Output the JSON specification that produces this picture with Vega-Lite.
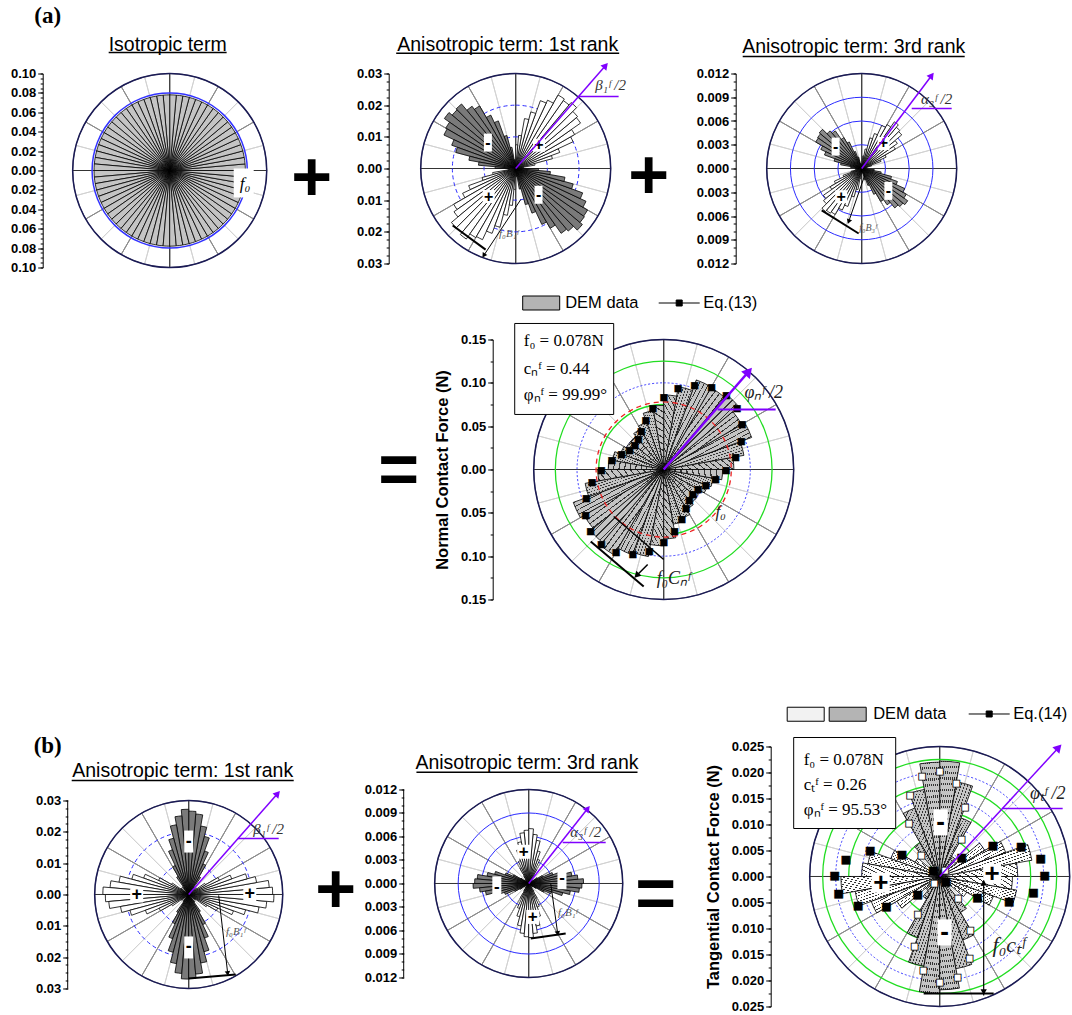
{
"$schema":"https://vega.github.io/schema/vega-lite/v6.json",
"padding":{"left":9.7,"top":4.5,"right":0,"bottom":0},
"background":"white",
"config":{"view":{"stroke":null}},
"datasets":{
"sp":[{"k":0},{"k":1},{"k":2},{"k":3},{"k":4},{"k":5},{"k":6},{"k":7},{"k":8},{"k":9},{"k":10},{"k":11},{"k":12},{"k":13},{"k":14},{"k":15},{"k":16},{"k":17},{"k":18},{"k":19},{"k":20},{"k":21},{"k":22},{"k":23}],
"iso":[{"a0":0,"a1":5,"r":0.078},{"a0":5,"a1":10,"r":0.078},{"a0":10,"a1":15,"r":0.078},{"a0":15,"a1":20,"r":0.078},{"a0":20,"a1":25,"r":0.078},{"a0":25,"a1":30,"r":0.078},{"a0":30,"a1":35,"r":0.078},{"a0":35,"a1":40,"r":0.078},{"a0":40,"a1":45,"r":0.078},{"a0":45,"a1":50,"r":0.078},{"a0":50,"a1":55,"r":0.078},{"a0":55,"a1":60,"r":0.078},{"a0":60,"a1":65,"r":0.078},{"a0":65,"a1":70,"r":0.078},{"a0":70,"a1":75,"r":0.078},{"a0":75,"a1":80,"r":0.078},{"a0":80,"a1":85,"r":0.078},{"a0":85,"a1":90,"r":0.078},{"a0":90,"a1":95,"r":0.078},{"a0":95,"a1":100,"r":0.078},{"a0":100,"a1":105,"r":0.078},{"a0":105,"a1":110,"r":0.078},{"a0":110,"a1":115,"r":0.078},{"a0":115,"a1":120,"r":0.078},{"a0":120,"a1":125,"r":0.078},{"a0":125,"a1":130,"r":0.078},{"a0":130,"a1":135,"r":0.078},{"a0":135,"a1":140,"r":0.078},{"a0":140,"a1":145,"r":0.078},{"a0":145,"a1":150,"r":0.078},{"a0":150,"a1":155,"r":0.078},{"a0":155,"a1":160,"r":0.078},{"a0":160,"a1":165,"r":0.078},{"a0":165,"a1":170,"r":0.078},{"a0":170,"a1":175,"r":0.078},{"a0":175,"a1":180,"r":0.078},{"a0":180,"a1":185,"r":0.078},{"a0":185,"a1":190,"r":0.078},{"a0":190,"a1":195,"r":0.078},{"a0":195,"a1":200,"r":0.078},{"a0":200,"a1":205,"r":0.078},{"a0":205,"a1":210,"r":0.078},{"a0":210,"a1":215,"r":0.078},{"a0":215,"a1":220,"r":0.078},{"a0":220,"a1":225,"r":0.078},{"a0":225,"a1":230,"r":0.078},{"a0":230,"a1":235,"r":0.078},{"a0":235,"a1":240,"r":0.078},{"a0":240,"a1":245,"r":0.078},{"a0":245,"a1":250,"r":0.078},{"a0":250,"a1":255,"r":0.078},{"a0":255,"a1":260,"r":0.078},{"a0":260,"a1":265,"r":0.078},{"a0":265,"a1":270,"r":0.078},{"a0":270,"a1":275,"r":0.078},{"a0":275,"a1":280,"r":0.078},{"a0":280,"a1":285,"r":0.078},{"a0":285,"a1":290,"r":0.078},{"a0":290,"a1":295,"r":0.078},{"a0":295,"a1":300,"r":0.078},{"a0":300,"a1":305,"r":0.078},{"a0":305,"a1":310,"r":0.078},{"a0":310,"a1":315,"r":0.078},{"a0":315,"a1":320,"r":0.078},{"a0":320,"a1":325,"r":0.078},{"a0":325,"a1":330,"r":0.078},{"a0":330,"a1":335,"r":0.078},{"a0":335,"a1":340,"r":0.078},{"a0":340,"a1":345,"r":0.078},{"a0":345,"a1":350,"r":0.078},{"a0":350,"a1":355,"r":0.078},{"a0":355,"a1":360,"r":0.078}],
"an1a":[{"a0":0,"a1":5,"r":0.0022,"s":"-"},{"a0":5,"a1":10,"r":0.0025,"s":"+"},{"a0":10,"a1":15,"r":0.0062,"s":"+"},{"a0":15,"a1":20,"r":0.012,"s":"+"},{"a0":20,"a1":25,"r":0.0148,"s":"+"},{"a0":25,"a1":30,"r":0.02,"s":"+"},{"a0":30,"a1":35,"r":0.0215,"s":"+"},{"a0":35,"a1":40,"r":0.025,"s":"+"},{"a0":40,"a1":45,"r":0.0255,"s":"+"},{"a0":45,"a1":50,"r":0.0272,"s":"+"},{"a0":50,"a1":55,"r":0.0262,"s":"+"},{"a0":55,"a1":60,"r":0.0268,"s":"+"},{"a0":60,"a1":65,"r":0.0238,"s":"+"},{"a0":65,"a1":70,"r":0.0228,"s":"+"},{"a0":70,"a1":75,"r":0.0185,"s":"+"},{"a0":75,"a1":80,"r":0.016,"s":"+"},{"a0":80,"a1":85,"r":0.0105,"s":"+"},{"a0":85,"a1":90,"r":0.0075,"s":"+"},{"a0":90,"a1":95,"r":0.002,"s":"+"},{"a0":95,"a1":100,"r":0.0028,"s":"-"},{"a0":100,"a1":105,"r":0.0068,"s":"-"},{"a0":105,"a1":110,"r":0.0108,"s":"-"},{"a0":110,"a1":115,"r":0.016,"s":"-"},{"a0":115,"a1":120,"r":0.0186,"s":"-"},{"a0":120,"a1":125,"r":0.0228,"s":"-"},{"a0":125,"a1":130,"r":0.024,"s":"-"},{"a0":130,"a1":135,"r":0.0266,"s":"-"},{"a0":135,"a1":140,"r":0.0262,"s":"-"},{"a0":140,"a1":145,"r":0.0275,"s":"-"},{"a0":145,"a1":150,"r":0.0255,"s":"-"},{"a0":150,"a1":155,"r":0.025,"s":"-"},{"a0":155,"a1":160,"r":0.0215,"s":"-"},{"a0":160,"a1":165,"r":0.0196,"s":"-"},{"a0":165,"a1":170,"r":0.015,"s":"-"},{"a0":170,"a1":175,"r":0.0118,"s":"-"},{"a0":175,"a1":180,"r":0.0065,"s":"-"},{"a0":180,"a1":185,"r":0.0025,"s":"-"},{"a0":185,"a1":190,"r":0.0022,"s":"+"},{"a0":190,"a1":195,"r":0.0074,"s":"+"},{"a0":195,"a1":200,"r":0.011,"s":"+"},{"a0":200,"a1":205,"r":0.0158,"s":"+"},{"a0":205,"a1":210,"r":0.0185,"s":"+"},{"a0":210,"a1":215,"r":0.0226,"s":"+"},{"a0":215,"a1":220,"r":0.0238,"s":"+"},{"a0":220,"a1":225,"r":0.0265,"s":"+"},{"a0":225,"a1":230,"r":0.0264,"s":"+"},{"a0":230,"a1":235,"r":0.0272,"s":"+"},{"a0":235,"a1":240,"r":0.0252,"s":"+"},{"a0":240,"a1":245,"r":0.0248,"s":"+"},{"a0":245,"a1":250,"r":0.0218,"s":"+"},{"a0":250,"a1":255,"r":0.0192,"s":"+"},{"a0":255,"a1":260,"r":0.015,"s":"+"},{"a0":260,"a1":265,"r":0.0117,"s":"+"},{"a0":265,"a1":270,"r":0.0066,"s":"+"},{"a0":270,"a1":275,"r":0.0026,"s":"+"},{"a0":275,"a1":280,"r":0.0024,"s":"-"},{"a0":280,"a1":285,"r":0.0066,"s":"-"},{"a0":285,"a1":290,"r":0.0118,"s":"-"},{"a0":290,"a1":295,"r":0.015,"s":"-"},{"a0":295,"a1":300,"r":0.0195,"s":"-"},{"a0":300,"a1":305,"r":0.0218,"s":"-"},{"a0":305,"a1":310,"r":0.025,"s":"-"},{"a0":310,"a1":315,"r":0.0258,"s":"-"},{"a0":315,"a1":320,"r":0.0275,"s":"-"},{"a0":320,"a1":325,"r":0.0265,"s":"-"},{"a0":325,"a1":330,"r":0.0262,"s":"-"},{"a0":330,"a1":335,"r":0.0245,"s":"-"},{"a0":335,"a1":340,"r":0.0225,"s":"-"},{"a0":340,"a1":345,"r":0.0188,"s":"-"},{"a0":345,"a1":350,"r":0.0158,"s":"-"},{"a0":350,"a1":355,"r":0.011,"s":"-"},{"a0":355,"a1":360,"r":0.0072,"s":"-"}],
"an3a":[{"a0":0,"a1":5,"r":0.0002,"s":"-"},{"a0":5,"a1":10,"r":0.0003,"s":"+"},{"a0":10,"a1":15,"r":0.0007,"s":"+"},{"a0":15,"a1":20,"r":0.0013,"s":"+"},{"a0":20,"a1":25,"r":0.0026,"s":"+"},{"a0":25,"a1":30,"r":0.0034,"s":"+"},{"a0":30,"a1":35,"r":0.0049,"s":"+"},{"a0":35,"a1":40,"r":0.0055,"s":"+"},{"a0":40,"a1":45,"r":0.0066,"s":"+"},{"a0":45,"a1":50,"r":0.0068,"s":"+"},{"a0":50,"a1":55,"r":0.0072,"s":"+"},{"a0":55,"a1":60,"r":0.0064,"s":"+"},{"a0":60,"a1":65,"r":0.006,"s":"+"},{"a0":65,"a1":70,"r":0.0047,"s":"+"},{"a0":70,"a1":75,"r":0.004,"s":"+"},{"a0":75,"a1":80,"r":0.0025,"s":"+"},{"a0":80,"a1":85,"r":0.0016,"s":"+"},{"a0":85,"a1":90,"r":0.0006,"s":"+"},{"a0":90,"a1":95,"r":0.0002,"s":"+"},{"a0":95,"a1":100,"r":0.0002,"s":"-"},{"a0":100,"a1":105,"r":0.0006,"s":"-"},{"a0":105,"a1":110,"r":0.0015,"s":"-"},{"a0":110,"a1":115,"r":0.0023,"s":"-"},{"a0":115,"a1":120,"r":0.0037,"s":"-"},{"a0":120,"a1":125,"r":0.0045,"s":"-"},{"a0":125,"a1":130,"r":0.0058,"s":"-"},{"a0":130,"a1":135,"r":0.0062,"s":"-"},{"a0":135,"a1":140,"r":0.007,"s":"-"},{"a0":140,"a1":145,"r":0.0068,"s":"-"},{"a0":145,"a1":150,"r":0.0067,"s":"-"},{"a0":150,"a1":155,"r":0.0057,"s":"-"},{"a0":155,"a1":160,"r":0.005,"s":"-"},{"a0":160,"a1":165,"r":0.0036,"s":"-"},{"a0":165,"a1":170,"r":0.0027,"s":"-"},{"a0":170,"a1":175,"r":0.0014,"s":"-"},{"a0":175,"a1":180,"r":0.0008,"s":"-"},{"a0":180,"a1":185,"r":0.0003,"s":"-"},{"a0":185,"a1":190,"r":0.0002,"s":"+"},{"a0":190,"a1":195,"r":0.0008,"s":"+"},{"a0":195,"a1":200,"r":0.0014,"s":"+"},{"a0":200,"a1":205,"r":0.0025,"s":"+"},{"a0":205,"a1":210,"r":0.0038,"s":"+"},{"a0":210,"a1":215,"r":0.0046,"s":"+"},{"a0":215,"a1":220,"r":0.0059,"s":"+"},{"a0":220,"a1":225,"r":0.0063,"s":"+"},{"a0":225,"a1":230,"r":0.0071,"s":"+"},{"a0":230,"a1":235,"r":0.0069,"s":"+"},{"a0":235,"a1":240,"r":0.0067,"s":"+"},{"a0":240,"a1":245,"r":0.0058,"s":"+"},{"a0":245,"a1":250,"r":0.0051,"s":"+"},{"a0":250,"a1":255,"r":0.0037,"s":"+"},{"a0":255,"a1":260,"r":0.0027,"s":"+"},{"a0":260,"a1":265,"r":0.0013,"s":"+"},{"a0":265,"a1":270,"r":0.0007,"s":"+"},{"a0":270,"a1":275,"r":0.0003,"s":"+"},{"a0":275,"a1":280,"r":0.0003,"s":"-"},{"a0":280,"a1":285,"r":0.0006,"s":"-"},{"a0":285,"a1":290,"r":0.0015,"s":"-"},{"a0":290,"a1":295,"r":0.0023,"s":"-"},{"a0":295,"a1":300,"r":0.0036,"s":"-"},{"a0":300,"a1":305,"r":0.0048,"s":"-"},{"a0":305,"a1":310,"r":0.0056,"s":"-"},{"a0":310,"a1":315,"r":0.0065,"s":"-"},{"a0":315,"a1":320,"r":0.0068,"s":"-"},{"a0":320,"a1":325,"r":0.0071,"s":"-"},{"a0":325,"a1":330,"r":0.0065,"s":"-"},{"a0":330,"a1":335,"r":0.006,"s":"-"},{"a0":335,"a1":340,"r":0.0048,"s":"-"},{"a0":340,"a1":345,"r":0.0039,"s":"-"},{"a0":345,"a1":350,"r":0.0025,"s":"-"},{"a0":350,"a1":355,"r":0.0016,"s":"-"},{"a0":355,"a1":360,"r":0.0006,"s":"-"}],
"b1":[{"a0":0,"a1":5,"r":0.0268,"s":"+"},{"a0":5,"a1":10,"r":0.0258,"s":"+"},{"a0":10,"a1":15,"r":0.022,"s":"+"},{"a0":15,"a1":20,"r":0.0193,"s":"+"},{"a0":20,"a1":25,"r":0.0146,"s":"+"},{"a0":25,"a1":30,"r":0.0108,"s":"+"},{"a0":30,"a1":35,"r":0.0062,"s":"+"},{"a0":35,"a1":40,"r":0.0032,"s":"+"},{"a0":40,"a1":45,"r":0.0009,"s":"+"},{"a0":45,"a1":50,"r":0.0011,"s":"-"},{"a0":50,"a1":55,"r":0.0029,"s":"-"},{"a0":55,"a1":60,"r":0.0066,"s":"-"},{"a0":60,"a1":65,"r":0.0108,"s":"-"},{"a0":65,"a1":70,"r":0.0148,"s":"-"},{"a0":70,"a1":75,"r":0.0192,"s":"-"},{"a0":75,"a1":80,"r":0.0222,"s":"-"},{"a0":80,"a1":85,"r":0.0258,"s":"-"},{"a0":85,"a1":90,"r":0.0266,"s":"-"},{"a0":90,"a1":95,"r":0.0272,"s":"-"},{"a0":95,"a1":100,"r":0.0252,"s":"-"},{"a0":100,"a1":105,"r":0.0226,"s":"-"},{"a0":105,"a1":110,"r":0.0186,"s":"-"},{"a0":110,"a1":115,"r":0.0152,"s":"-"},{"a0":115,"a1":120,"r":0.0102,"s":"-"},{"a0":120,"a1":125,"r":0.0067,"s":"-"},{"a0":125,"a1":130,"r":0.0031,"s":"-"},{"a0":130,"a1":135,"r":0.0009,"s":"-"},{"a0":135,"a1":140,"r":0.0009,"s":"+"},{"a0":140,"a1":145,"r":0.0032,"s":"+"},{"a0":145,"a1":150,"r":0.0064,"s":"+"},{"a0":150,"a1":155,"r":0.0106,"s":"+"},{"a0":155,"a1":160,"r":0.0153,"s":"+"},{"a0":160,"a1":165,"r":0.0188,"s":"+"},{"a0":165,"a1":170,"r":0.0226,"s":"+"},{"a0":170,"a1":175,"r":0.0252,"s":"+"},{"a0":175,"a1":180,"r":0.0274,"s":"+"},{"a0":180,"a1":185,"r":0.0266,"s":"+"},{"a0":185,"a1":190,"r":0.0256,"s":"+"},{"a0":190,"a1":195,"r":0.0221,"s":"+"},{"a0":195,"a1":200,"r":0.0194,"s":"+"},{"a0":200,"a1":205,"r":0.0147,"s":"+"},{"a0":205,"a1":210,"r":0.0104,"s":"+"},{"a0":210,"a1":215,"r":0.0063,"s":"+"},{"a0":215,"a1":220,"r":0.0029,"s":"+"},{"a0":220,"a1":225,"r":0.001,"s":"+"},{"a0":225,"a1":230,"r":0.001,"s":"-"},{"a0":230,"a1":235,"r":0.0028,"s":"-"},{"a0":235,"a1":240,"r":0.0067,"s":"-"},{"a0":240,"a1":245,"r":0.0103,"s":"-"},{"a0":245,"a1":250,"r":0.015,"s":"-"},{"a0":250,"a1":255,"r":0.0191,"s":"-"},{"a0":255,"a1":260,"r":0.0224,"s":"-"},{"a0":260,"a1":265,"r":0.0253,"s":"-"},{"a0":265,"a1":270,"r":0.027,"s":"-"},{"a0":270,"a1":275,"r":0.0268,"s":"-"},{"a0":275,"a1":280,"r":0.0255,"s":"-"},{"a0":280,"a1":285,"r":0.0222,"s":"-"},{"a0":285,"a1":290,"r":0.0189,"s":"-"},{"a0":290,"a1":295,"r":0.0148,"s":"-"},{"a0":295,"a1":300,"r":0.0106,"s":"-"},{"a0":300,"a1":305,"r":0.0065,"s":"-"},{"a0":305,"a1":310,"r":0.003,"s":"-"},{"a0":310,"a1":315,"r":0.0011,"s":"-"},{"a0":315,"a1":320,"r":0.001,"s":"+"},{"a0":320,"a1":325,"r":0.0028,"s":"+"},{"a0":325,"a1":330,"r":0.0068,"s":"+"},{"a0":330,"a1":335,"r":0.0102,"s":"+"},{"a0":335,"a1":340,"r":0.0152,"s":"+"},{"a0":340,"a1":345,"r":0.0188,"s":"+"},{"a0":345,"a1":350,"r":0.0228,"s":"+"},{"a0":350,"a1":355,"r":0.025,"s":"+"},{"a0":355,"a1":360,"r":0.0272,"s":"+"}],
"b3":[{"a0":0,"a1":5,"r":0.007,"s":"-"},{"a0":5,"a1":10,"r":0.0063,"s":"-"},{"a0":10,"a1":15,"r":0.0056,"s":"-"},{"a0":15,"a1":20,"r":0.0043,"s":"-"},{"a0":20,"a1":25,"r":0.0033,"s":"-"},{"a0":25,"a1":30,"r":0.002,"s":"-"},{"a0":30,"a1":35,"r":0.0013,"s":"-"},{"a0":35,"a1":40,"r":0.0005,"s":"-"},{"a0":40,"a1":45,"r":0.0002,"s":"-"},{"a0":45,"a1":50,"r":0.0002,"s":"+"},{"a0":50,"a1":55,"r":0.0006,"s":"+"},{"a0":55,"a1":60,"r":0.0013,"s":"+"},{"a0":60,"a1":65,"r":0.002,"s":"+"},{"a0":65,"a1":70,"r":0.0033,"s":"+"},{"a0":70,"a1":75,"r":0.0043,"s":"+"},{"a0":75,"a1":80,"r":0.0056,"s":"+"},{"a0":80,"a1":85,"r":0.0063,"s":"+"},{"a0":85,"a1":90,"r":0.007,"s":"+"},{"a0":90,"a1":95,"r":0.0068,"s":"+"},{"a0":95,"a1":100,"r":0.0065,"s":"+"},{"a0":100,"a1":105,"r":0.0054,"s":"+"},{"a0":105,"a1":110,"r":0.0045,"s":"+"},{"a0":110,"a1":115,"r":0.0031,"s":"+"},{"a0":115,"a1":120,"r":0.0022,"s":"+"},{"a0":120,"a1":125,"r":0.0011,"s":"+"},{"a0":125,"a1":130,"r":0.0007,"s":"+"},{"a0":130,"a1":135,"r":0.0002,"s":"+"},{"a0":135,"a1":140,"r":0.0003,"s":"-"},{"a0":140,"a1":145,"r":0.0006,"s":"-"},{"a0":145,"a1":150,"r":0.0012,"s":"-"},{"a0":150,"a1":155,"r":0.0022,"s":"-"},{"a0":155,"a1":160,"r":0.0032,"s":"-"},{"a0":160,"a1":165,"r":0.0045,"s":"-"},{"a0":165,"a1":170,"r":0.0054,"s":"-"},{"a0":170,"a1":175,"r":0.0066,"s":"-"},{"a0":175,"a1":180,"r":0.0069,"s":"-"},{"a0":180,"a1":185,"r":0.0071,"s":"-"},{"a0":185,"a1":190,"r":0.0063,"s":"-"},{"a0":190,"a1":195,"r":0.0056,"s":"-"},{"a0":195,"a1":200,"r":0.0043,"s":"-"},{"a0":200,"a1":205,"r":0.0033,"s":"-"},{"a0":205,"a1":210,"r":0.002,"s":"-"},{"a0":210,"a1":215,"r":0.0013,"s":"-"},{"a0":215,"a1":220,"r":0.0005,"s":"-"},{"a0":220,"a1":225,"r":0.0002,"s":"-"},{"a0":225,"a1":230,"r":0.0002,"s":"+"},{"a0":230,"a1":235,"r":0.0007,"s":"+"},{"a0":235,"a1":240,"r":0.0011,"s":"+"},{"a0":240,"a1":245,"r":0.0021,"s":"+"},{"a0":245,"a1":250,"r":0.0034,"s":"+"},{"a0":250,"a1":255,"r":0.0044,"s":"+"},{"a0":255,"a1":260,"r":0.0055,"s":"+"},{"a0":260,"a1":265,"r":0.0064,"s":"+"},{"a0":265,"a1":270,"r":0.0068,"s":"+"},{"a0":270,"a1":275,"r":0.0069,"s":"+"},{"a0":275,"a1":280,"r":0.0064,"s":"+"},{"a0":280,"a1":285,"r":0.0055,"s":"+"},{"a0":285,"a1":290,"r":0.0044,"s":"+"},{"a0":290,"a1":295,"r":0.0032,"s":"+"},{"a0":295,"a1":300,"r":0.0021,"s":"+"},{"a0":300,"a1":305,"r":0.0012,"s":"+"},{"a0":305,"a1":310,"r":0.0006,"s":"+"},{"a0":310,"a1":315,"r":0.0002,"s":"+"},{"a0":315,"a1":320,"r":0.0002,"s":"-"},{"a0":320,"a1":325,"r":0.0007,"s":"-"},{"a0":325,"a1":330,"r":0.0011,"s":"-"},{"a0":330,"a1":335,"r":0.0022,"s":"-"},{"a0":335,"a1":340,"r":0.0031,"s":"-"},{"a0":340,"a1":345,"r":0.0045,"s":"-"},{"a0":345,"a1":350,"r":0.0054,"s":"-"},{"a0":350,"a1":355,"r":0.0065,"s":"-"},{"a0":355,"a1":360,"r":0.0068,"s":"-"}],
"nrm":[{"a0":0,"a1":10,"r":0.081},{"a0":10,"a1":20,"r":0.094},{"a0":20,"a1":30,"r":0.108},{"a0":30,"a1":40,"r":0.104},{"a0":40,"a1":50,"r":0.113},{"a0":50,"a1":60,"r":0.109},{"a0":60,"a1":70,"r":0.11},{"a0":70,"a1":80,"r":0.097},{"a0":80,"a1":90,"r":0.086},{"a0":90,"a1":100,"r":0.074},{"a0":100,"a1":110,"r":0.069},{"a0":110,"a1":120,"r":0.058},{"a0":120,"a1":130,"r":0.054},{"a0":130,"a1":140,"r":0.05},{"a0":140,"a1":150,"r":0.05},{"a0":150,"a1":160,"r":0.053},{"a0":160,"a1":170,"r":0.06},{"a0":170,"a1":180,"r":0.064},{"a0":180,"a1":190,"r":0.076},{"a0":190,"a1":200,"r":0.092},{"a0":200,"a1":210,"r":0.111},{"a0":210,"a1":220,"r":0.106},{"a0":220,"a1":230,"r":0.11},{"a0":230,"a1":240,"r":0.114},{"a0":240,"a1":250,"r":0.105},{"a0":250,"a1":260,"r":0.102},{"a0":260,"a1":270,"r":0.088},{"a0":270,"a1":280,"r":0.08},{"a0":280,"a1":290,"r":0.064},{"a0":290,"a1":300,"r":0.06},{"a0":300,"a1":310,"r":0.053},{"a0":310,"a1":320,"r":0.05},{"a0":320,"a1":330,"r":0.049},{"a0":330,"a1":340,"r":0.054},{"a0":340,"a1":350,"r":0.058},{"a0":350,"a1":360,"r":0.068}],
"eq13":[{"a":0,"r":0.072},{"a":10,"r":0.084},{"a":20,"r":0.0952},{"a":30,"r":0.1043},{"a":40,"r":0.1103},{"a":50,"r":0.1123},{"a":60,"r":0.1103},{"a":70,"r":0.1043},{"a":80,"r":0.0952},{"a":90,"r":0.084},{"a":100,"r":0.072},{"a":110,"r":0.0608},{"a":120,"r":0.0517},{"a":130,"r":0.0457},{"a":140,"r":0.0437},{"a":150,"r":0.0457},{"a":160,"r":0.0517},{"a":170,"r":0.0608},{"a":180,"r":0.072},{"a":190,"r":0.084},{"a":200,"r":0.0952},{"a":210,"r":0.1043},{"a":220,"r":0.1103},{"a":230,"r":0.1123},{"a":240,"r":0.1103},{"a":250,"r":0.1043},{"a":260,"r":0.0952},{"a":270,"r":0.084},{"a":280,"r":0.072},{"a":290,"r":0.0608},{"a":300,"r":0.0517},{"a":310,"r":0.0457},{"a":320,"r":0.0437},{"a":330,"r":0.0457},{"a":340,"r":0.0517},{"a":350,"r":0.0608}],
"tng":[{"a0":0,"a1":10,"r":0.015,"s":"+"},{"a0":10,"a1":20,"r":0.018,"s":"+"},{"a0":20,"a1":30,"r":0.0135,"s":"+"},{"a0":30,"a1":40,"r":0.01,"s":"+"},{"a0":40,"a1":50,"r":0.004,"s":"+"},{"a0":50,"a1":60,"r":0.0045,"s":"-"},{"a0":60,"a1":70,"r":0.012,"s":"-"},{"a0":70,"a1":80,"r":0.0185,"s":"-"},{"a0":80,"a1":90,"r":0.0222,"s":"-"},{"a0":90,"a1":100,"r":0.022,"s":"-"},{"a0":100,"a1":110,"r":0.017,"s":"-"},{"a0":110,"a1":120,"r":0.014,"s":"-"},{"a0":120,"a1":130,"r":0.0075,"s":"-"},{"a0":130,"a1":140,"r":0.0022,"s":"-"},{"a0":140,"a1":150,"r":0.0055,"s":"+"},{"a0":150,"a1":160,"r":0.01,"s":"+"},{"a0":160,"a1":170,"r":0.014,"s":"+"},{"a0":170,"a1":180,"r":0.015,"s":"+"},{"a0":180,"a1":190,"r":0.019,"s":"+"},{"a0":190,"a1":200,"r":0.0165,"s":"+"},{"a0":200,"a1":210,"r":0.014,"s":"+"},{"a0":210,"a1":220,"r":0.0095,"s":"+"},{"a0":220,"a1":230,"r":0.0035,"s":"+"},{"a0":230,"a1":240,"r":0.005,"s":"-"},{"a0":240,"a1":250,"r":0.0125,"s":"-"},{"a0":250,"a1":260,"r":0.0175,"s":"-"},{"a0":260,"a1":270,"r":0.0225,"s":"-"},{"a0":270,"a1":280,"r":0.0218,"s":"-"},{"a0":280,"a1":290,"r":0.018,"s":"-"},{"a0":290,"a1":300,"r":0.013,"s":"-"},{"a0":300,"a1":310,"r":0.008,"s":"-"},{"a0":310,"a1":320,"r":0.0025,"s":"-"},{"a0":320,"a1":330,"r":0.006,"s":"+"},{"a0":330,"a1":340,"r":0.011,"s":"+"},{"a0":340,"a1":350,"r":0.015,"s":"+"},{"a0":350,"a1":360,"r":0.014,"s":"+"}],
"eq14":[{"a":0,"r":0.0202,"s":"+"},{"a":10,"r":0.0197,"s":"+"},{"a":20,"r":0.0167,"s":"+"},{"a":30,"r":0.0118,"s":"+"},{"a":40,"r":0.0055,"s":"+"},{"a":50,"r":0.0016,"s":"-"},{"a":60,"r":0.0084,"s":"-"},{"a":70,"r":0.0142,"s":"-"},{"a":80,"r":0.0183,"s":"-"},{"a":90,"r":0.0202,"s":"-"},{"a":100,"r":0.0197,"s":"-"},{"a":110,"r":0.0167,"s":"-"},{"a":120,"r":0.0118,"s":"-"},{"a":130,"r":0.0055,"s":"-"},{"a":140,"r":0.0016,"s":"+"},{"a":150,"r":0.0084,"s":"+"},{"a":160,"r":0.0142,"s":"+"},{"a":170,"r":0.0183,"s":"+"},{"a":180,"r":0.0202,"s":"+"},{"a":190,"r":0.0197,"s":"+"},{"a":200,"r":0.0167,"s":"+"},{"a":210,"r":0.0118,"s":"+"},{"a":220,"r":0.0055,"s":"+"},{"a":230,"r":0.0016,"s":"-"},{"a":240,"r":0.0084,"s":"-"},{"a":250,"r":0.0142,"s":"-"},{"a":260,"r":0.0183,"s":"-"},{"a":270,"r":0.0202,"s":"-"},{"a":280,"r":0.0197,"s":"-"},{"a":290,"r":0.0167,"s":"-"},{"a":300,"r":0.0118,"s":"-"},{"a":310,"r":0.0055,"s":"-"},{"a":320,"r":0.0016,"s":"+"},{"a":330,"r":0.0084,"s":"+"},{"a":340,"r":0.0142,"s":"+"},{"a":350,"r":0.0183,"s":"+"}]
},
"columns":3,
"spacing":0,
"bounds":"flush",
"resolve":{"scale":{"theta":"independent","radius":"independent","fill":"independent","stroke":"independent"},"legend":{"fill":"independent","stroke":"independent"}},
"concat":[
{"width":194,"height":194,"resolve":{"scale":{"theta":"independent"},"axis":{"y":"independent"}},"layer":[
 {"data":{"name":"sp"},"mark":{"type":"arc","filled":false,"stroke":"#d2d2d2","strokeWidth":1},"encoding":{"theta":{"aggregate":"count","type":"quantitative","stack":true},"order":{"field":"k","type":"quantitative"},"radius":{"datum":0.1,"type":"quantitative","scale":{"type":"linear","domain":[0,0.1],"range":[0,97]}}}},
 {"data":{"name":"sp"},"transform":[{"filter":"datum.k % 2 == 0"}],"mark":{"type":"arc","filled":false,"stroke":"#8c8c8c","strokeWidth":1},"encoding":{"theta":{"aggregate":"count","type":"quantitative","stack":true},"order":{"field":"k","type":"quantitative"},"radius":{"datum":0.1,"type":"quantitative","scale":{"type":"linear","domain":[0,0.1],"range":[0,97]}}}},
 {"data":{"values":[{}]},"mark":{"type":"rule","color":"#333333"},"encoding":{"x":{"datum":0,"type":"quantitative","scale":{"domain":[-0.1,0.1]},"axis":null},"y":{"datum":-0.1,"type":"quantitative","scale":{"domain":[-0.1,0.1]},"axis":{"orient":"left","title":null,"offset":30,"grid":false,"values":[-0.1,-0.08,-0.06,-0.04,-0.02,0,0.02,0.04,0.06,0.08,0.1],"labelExpr":"format(abs(datum.value), '.2f')","tickSize":5,"domainColor":"black","tickColor":"black","labelColor":"black","labelFont":"Liberation Sans","labelFontWeight":"bold","labelFontSize":13,"labelPadding":2,"labelOverlap":false,"labelFlush":false}},"y2":{"datum":0.1}}},
 {"data":{"values":[{}]},"mark":{"type":"rule","color":"#333333"},"encoding":{"x":{"datum":-0.1,"type":"quantitative","scale":{"domain":[-0.1,0.1]},"axis":null},"x2":{"datum":0.1},"y":{"datum":0,"type":"quantitative","scale":{"domain":[-0.1,0.1]},"axis":{"orient":"left","title":null,"offset":30,"grid":false,"values":[-0.1,-0.095,-0.09,-0.085,-0.08,-0.075,-0.07,-0.065,-0.06,-0.055,-0.05,-0.045,-0.04,-0.035,-0.03,-0.025,-0.02,-0.015,-0.01,-0.005,0,0.005,0.01,0.015,0.02,0.025,0.03,0.035,0.04,0.045,0.05,0.055,0.06,0.065,0.07,0.075,0.08,0.085,0.09,0.095,0.1],"labels":false,"domain":false,"tickSize":2.5,"tickColor":"black"}}}},
 {"data":{"values":[{"g":0.08}]},"mark":{"type":"arc","filled":false,"stroke":"#3333ff","strokeWidth":1.5,"theta":0,"theta2":6.2832},"encoding":{"radius":{"field":"g","type":"quantitative","stack":false,"scale":{"type":"linear","domain":[0,0.1],"range":[0,97]}}}},
 {"data":{"name":"iso"},"mark":{"type":"arc","fill":"#c4c4c4","stroke":"black","strokeWidth":0.8},"encoding":{"theta":{"field":"a0","type":"quantitative","scale":{"domain":[0,360],"range":[1.5708,-4.7124]}},"theta2":{"field":"a1"},"radius":{"field":"r","type":"quantitative","stack":false,"scale":{"type":"linear","domain":[0,0.1],"range":[0,97]}}}},
 {"data":{"values":[{}]},"mark":{"type":"arc","filled":false,"stroke":"#1a1a55","strokeWidth":1.5,"theta":0,"theta2":6.2832},"encoding":{"radius":{"datum":0.1,"type":"quantitative","scale":{"type":"linear","domain":[0,0.1],"range":[0,97]}}}},
 {"data":{"values":[{}]},"mark":{"type":"rect","fill":"white"},"encoding":{"x":{"datum":0.066,"type":"quantitative","scale":{"domain":[-0.1,0.1]},"axis":null},"x2":{"datum":0.0866},"y":{"datum":0.0021,"type":"quantitative","scale":{"domain":[-0.1,0.1]},"axis":null},"y2":{"datum":-0.0278}}},
 {"data":{"values":[{}]},"mark":{"type":"text","text":"f₀","font":"Liberation Serif","fontStyle":"italic","fontSize":17,"color":"black"},"encoding":{"x":{"datum":0.0776,"type":"quantitative","scale":{"domain":[-0.1,0.1]},"axis":null},"y":{"datum":-0.0134,"type":"quantitative","scale":{"domain":[-0.1,0.1]},"axis":null}}},
 {"data":{"values":[{}]},"mark":{"type":"text","text":"Isotropic term","font":"Liberation Sans","fontSize":19.5,"color":"black","baseline":"alphabetic"},"encoding":{"x":{"datum":-0.0021,"type":"quantitative","scale":{"domain":[-0.1,0.1]},"axis":null},"y":{"datum":0.1237,"type":"quantitative","scale":{"domain":[-0.1,0.1]},"axis":null}}},
 {"data":{"values":[{}]},"mark":{"type":"rule","color":"black","strokeWidth":1.5},"encoding":{"x":{"datum":-0.0629,"type":"quantitative","scale":{"domain":[-0.1,0.1]},"axis":null},"x2":{"datum":0.0587},"y":{"datum":0.1216,"type":"quantitative","scale":{"domain":[-0.1,0.1]},"axis":null}}},
 {"data":{"values":[{}]},"mark":{"type":"text","text":"(a)","font":"Liberation Serif","fontWeight":"bold","fontSize":23,"color":"black"},"encoding":{"x":{"datum":-0.1258,"type":"quantitative","scale":{"domain":[-0.1,0.1]},"axis":null},"y":{"datum":0.1588,"type":"quantitative","scale":{"domain":[-0.1,0.1]},"axis":null}}},
 {"data":{"values":[{}]},"mark":{"type":"text","text":"+","font":"Liberation Sans","fontWeight":"bold","fontSize":70,"color":"black"},"encoding":{"x":{"datum":0.1464,"type":"quantitative","scale":{"domain":[-0.1,0.1]},"axis":null},"y":{"datum":-0.0098,"type":"quantitative","scale":{"domain":[-0.1,0.1]},"axis":null}}}
]},
{"width":190,"height":190,"resolve":{"scale":{"theta":"independent"},"axis":{"y":"independent"}},"layer":[
 {"data":{"name":"sp"},"mark":{"type":"arc","filled":false,"stroke":"#d2d2d2","strokeWidth":1},"encoding":{"theta":{"aggregate":"count","type":"quantitative","stack":true},"order":{"field":"k","type":"quantitative"},"radius":{"datum":0.03,"type":"quantitative","scale":{"type":"linear","domain":[0,0.03],"range":[0,95]}}}},
 {"data":{"name":"sp"},"transform":[{"filter":"datum.k % 2 == 0"}],"mark":{"type":"arc","filled":false,"stroke":"#8c8c8c","strokeWidth":1},"encoding":{"theta":{"aggregate":"count","type":"quantitative","stack":true},"order":{"field":"k","type":"quantitative"},"radius":{"datum":0.03,"type":"quantitative","scale":{"type":"linear","domain":[0,0.03],"range":[0,95]}}}},
 {"data":{"values":[{}]},"mark":{"type":"rule","color":"#333333"},"encoding":{"x":{"datum":0,"type":"quantitative","scale":{"domain":[-0.03,0.03]},"axis":null},"y":{"datum":-0.03,"type":"quantitative","scale":{"domain":[-0.03,0.03]},"axis":{"orient":"left","title":null,"offset":32,"grid":false,"values":[-0.03,-0.02,-0.01,0,0.01,0.02,0.03],"labelExpr":"format(abs(datum.value), '.2f')","tickSize":5,"domainColor":"black","tickColor":"black","labelColor":"black","labelFont":"Liberation Sans","labelFontWeight":"bold","labelFontSize":13,"labelPadding":2,"labelOverlap":false,"labelFlush":false}},"y2":{"datum":0.03}}},
 {"data":{"values":[{}]},"mark":{"type":"rule","color":"#333333"},"encoding":{"x":{"datum":-0.03,"type":"quantitative","scale":{"domain":[-0.03,0.03]},"axis":null},"x2":{"datum":0.03},"y":{"datum":0,"type":"quantitative","scale":{"domain":[-0.03,0.03]},"axis":{"orient":"left","title":null,"offset":32,"grid":false,"values":[-0.03,-0.0275,-0.025,-0.0225,-0.02,-0.0175,-0.015,-0.0125,-0.01,-0.0075,-0.005,-0.0025,0,0.0025,0.005,0.0075,0.01,0.0125,0.015,0.0175,0.02,0.0225,0.025,0.0275,0.03],"labels":false,"domain":false,"tickSize":2.5,"tickColor":"black"}}}},
 {"data":{"values":[{"g":0.01},{"g":0.02}]},"mark":{"type":"arc","filled":false,"stroke":"#2a2aff","strokeWidth":1,"strokeDash":[4,3],"theta":0,"theta2":6.2832},"encoding":{"radius":{"field":"g","type":"quantitative","stack":false,"scale":{"type":"linear","domain":[0,0.03],"range":[0,95]}}}},
 {"data":{"name":"an1a"},"mark":{"type":"arc","stroke":"black","strokeWidth":0.8},"encoding":{"theta":{"field":"a0","type":"quantitative","scale":{"domain":[0,360],"range":[1.5708,-4.7124]}},"theta2":{"field":"a1"},"radius":{"field":"r","type":"quantitative","stack":false,"scale":{"type":"linear","domain":[0,0.03],"range":[0,95]}},"fill":{"field":"s","type":"nominal","scale":{"domain":["+","-"],"range":["white","#7a7a7a"]},"legend":null}}},
 {"data":{"values":[{}]},"mark":{"type":"arc","filled":false,"stroke":"#1a1a55","strokeWidth":1.5,"theta":0,"theta2":6.2832},"encoding":{"radius":{"datum":0.03,"type":"quantitative","scale":{"type":"linear","domain":[0,0.03],"range":[0,95]}}}},
 {"data":{"values":[{}]},"mark":{"type":"rect","fill":"white"},"encoding":{"x":{"datum":-0.01004,"type":"quantitative","scale":{"domain":[-0.03,0.03]},"axis":null},"x2":{"datum":-0.007514},"y":{"datum":0.005342,"type":"quantitative","scale":{"domain":[-0.03,0.03]},"axis":null},"y2":{"datum":0.011026}}},
 {"data":{"values":[{}]},"mark":{"type":"rect","fill":"white"},"encoding":{"x":{"datum":0.005459,"type":"quantitative","scale":{"domain":[-0.03,0.03]},"axis":null},"x2":{"datum":0.009249},"y":{"datum":0.005301,"type":"quantitative","scale":{"domain":[-0.03,0.03]},"axis":null},"y2":{"datum":0.009407}}},
 {"data":{"values":[{}]},"mark":{"type":"rect","fill":"white"},"encoding":{"x":{"datum":-0.01044,"type":"quantitative","scale":{"domain":[-0.03,0.03]},"axis":null},"x2":{"datum":-0.00665},"y":{"datum":-0.0109,"type":"quantitative","scale":{"domain":[-0.03,0.03]},"axis":null},"y2":{"datum":-0.006794}}},
 {"data":{"values":[{}]},"mark":{"type":"rect","fill":"white"},"encoding":{"x":{"datum":0.005954,"type":"quantitative","scale":{"domain":[-0.03,0.03]},"axis":null},"x2":{"datum":0.00848},"y":{"datum":-0.011144,"type":"quantitative","scale":{"domain":[-0.03,0.03]},"axis":null},"y2":{"datum":-0.00546}}},
 {"data":{"values":[{"a":137,"r":0.012,"t":"-"},{"a":45,"r":0.0104,"t":"+"},{"a":226,"r":0.0123,"t":"+"},{"a":311,"r":0.011,"t":"-"}]},"mark":{"type":"text","font":"Liberation Sans","fontWeight":"bold","fontSize":16,"color":"black"},"encoding":{"theta":{"field":"a","type":"quantitative","stack":false,"scale":{"domain":[0,360],"range":[1.5708,-4.7124]}},"radius":{"field":"r","type":"quantitative","stack":false,"scale":{"type":"linear","domain":[0,0.03],"range":[0,95]}},"text":{"field":"t"}}},
 {"data":{"values":[{}]},"mark":{"type":"rule","color":"#8000ff","strokeWidth":1.5},"encoding":{"x":{"datum":0,"type":"quantitative","scale":{"domain":[-0.03,0.03]},"axis":null},"y":{"datum":0,"type":"quantitative","scale":{"domain":[-0.03,0.03]},"axis":null},"x2":{"datum":0.0284},"y2":{"datum":0.0325}}},
 {"data":{"values":[{}]},"mark":{"type":"rule","color":"#8000ff","strokeWidth":1.5},"encoding":{"x":{"datum":0.0199,"type":"quantitative","scale":{"domain":[-0.03,0.03]},"axis":null},"x2":{"datum":0.0325},"y":{"datum":0.0227,"type":"quantitative","scale":{"domain":[-0.03,0.03]},"axis":null}}},
 {"data":{"values":[{}]},"mark":{"type":"point","shape":"triangle-up","filled":true,"color":"#8000ff","size":60,"angle":41,"opacity":1},"encoding":{"x":{"datum":0.0284,"type":"quantitative","scale":{"domain":[-0.03,0.03]},"axis":null},"y":{"datum":0.0325,"type":"quantitative","scale":{"domain":[-0.03,0.03]},"axis":null}}},
 {"data":{"values":[{}]},"mark":{"type":"text","text":"β₁ᶠ /2","font":"Liberation Serif","fontStyle":"italic","fontSize":15,"color":"#333333"},"encoding":{"x":{"datum":0.03,"type":"quantitative","scale":{"domain":[-0.03,0.03]},"axis":null},"y":{"datum":0.0265,"type":"quantitative","scale":{"domain":[-0.03,0.03]},"axis":null}}},
 {"data":{"values":[{}]},"mark":{"type":"rule","color":"black","strokeWidth":1},"encoding":{"x":{"datum":0.0016,"type":"quantitative","scale":{"domain":[-0.03,0.03]},"axis":null},"y":{"datum":-0.0098,"type":"quantitative","scale":{"domain":[-0.03,0.03]},"axis":null},"x2":{"datum":-0.0101},"y2":{"datum":-0.0275}}},
 {"data":{"values":[{}]},"mark":{"type":"point","shape":"triangle-up","filled":true,"color":"black","size":30,"angle":-146.5,"opacity":1},"encoding":{"x":{"datum":-0.0101,"type":"quantitative","scale":{"domain":[-0.03,0.03]},"axis":null},"y":{"datum":-0.0275,"type":"quantitative","scale":{"domain":[-0.03,0.03]},"axis":null}}},
 {"data":{"values":[{}]},"mark":{"type":"rule","color":"black","strokeWidth":2},"encoding":{"x":{"datum":-0.0199,"type":"quantitative","scale":{"domain":[-0.03,0.03]},"axis":null},"y":{"datum":-0.018,"type":"quantitative","scale":{"domain":[-0.03,0.03]},"axis":null},"x2":{"datum":-0.0095},"y2":{"datum":-0.0256}}},
 {"data":{"values":[{}]},"mark":{"type":"text","text":"f₀B₁ᶠ","font":"Liberation Serif","fontStyle":"italic","fontSize":11,"color":"#555555"},"encoding":{"x":{"datum":-0.0022,"type":"quantitative","scale":{"domain":[-0.03,0.03]},"axis":null},"y":{"datum":-0.0208,"type":"quantitative","scale":{"domain":[-0.03,0.03]},"axis":null}}},
 {"data":{"values":[{}]},"mark":{"type":"text","text":"Anisotropic term: 1st rank","font":"Liberation Sans","fontSize":19.5,"color":"black","baseline":"alphabetic"},"encoding":{"x":{"datum":-0.00253,"type":"quantitative","scale":{"domain":[-0.03,0.03]},"axis":null},"y":{"datum":0.03726,"type":"quantitative","scale":{"domain":[-0.03,0.03]},"axis":null}}},
 {"data":{"values":[{}]},"mark":{"type":"rule","color":"black","strokeWidth":1.5},"encoding":{"x":{"datum":-0.03774,"type":"quantitative","scale":{"domain":[-0.03,0.03]},"axis":null},"x2":{"datum":0.03268},"y":{"datum":0.03641,"type":"quantitative","scale":{"domain":[-0.03,0.03]},"axis":null}}},
 {"data":{"values":[{}]},"mark":{"type":"text","text":"+","font":"Liberation Sans","fontWeight":"bold","fontSize":70,"color":"black"},"encoding":{"x":{"datum":0.042,"type":"quantitative","scale":{"domain":[-0.03,0.03]},"axis":null},"y":{"datum":-0.00315,"type":"quantitative","scale":{"domain":[-0.03,0.03]},"axis":null}}}
]},
{"width":190,"height":190,"resolve":{"scale":{"theta":"independent"},"axis":{"y":"independent"}},"layer":[
 {"data":{"name":"sp"},"mark":{"type":"arc","filled":false,"stroke":"#d2d2d2","strokeWidth":1},"encoding":{"theta":{"aggregate":"count","type":"quantitative","stack":true},"order":{"field":"k","type":"quantitative"},"radius":{"datum":0.012,"type":"quantitative","scale":{"type":"linear","domain":[0,0.012],"range":[0,95]}}}},
 {"data":{"name":"sp"},"transform":[{"filter":"datum.k % 2 == 0"}],"mark":{"type":"arc","filled":false,"stroke":"#8c8c8c","strokeWidth":1},"encoding":{"theta":{"aggregate":"count","type":"quantitative","stack":true},"order":{"field":"k","type":"quantitative"},"radius":{"datum":0.012,"type":"quantitative","scale":{"type":"linear","domain":[0,0.012],"range":[0,95]}}}},
 {"data":{"values":[{}]},"mark":{"type":"rule","color":"#333333"},"encoding":{"x":{"datum":0,"type":"quantitative","scale":{"domain":[-0.012,0.012]},"axis":null},"y":{"datum":-0.012,"type":"quantitative","scale":{"domain":[-0.012,0.012]},"axis":{"orient":"left","title":null,"offset":31,"grid":false,"values":[-0.012,-0.009,-0.006,-0.003,0,0.003,0.006,0.009,0.012],"labelExpr":"format(abs(datum.value), '.3f')","tickSize":5,"domainColor":"black","tickColor":"black","labelColor":"black","labelFont":"Liberation Sans","labelFontWeight":"bold","labelFontSize":13,"labelPadding":2,"labelOverlap":false,"labelFlush":false}},"y2":{"datum":0.012}}},
 {"data":{"values":[{}]},"mark":{"type":"rule","color":"#333333"},"encoding":{"x":{"datum":-0.012,"type":"quantitative","scale":{"domain":[-0.012,0.012]},"axis":null},"x2":{"datum":0.012},"y":{"datum":0,"type":"quantitative","scale":{"domain":[-0.012,0.012]},"axis":{"orient":"left","title":null,"offset":31,"grid":false,"values":[-0.012,-0.011,-0.01,-0.009,-0.008,-0.007,-0.006,-0.005,-0.004,-0.003,-0.002,-0.001,0,0.001,0.002,0.003,0.004,0.005,0.006,0.007,0.008,0.009,0.01,0.011,0.012],"labels":false,"domain":false,"tickSize":2.5,"tickColor":"black"}}}},
 {"data":{"values":[{"g":0.003},{"g":0.006},{"g":0.009}]},"mark":{"type":"arc","filled":false,"stroke":"#2a2aff","strokeWidth":1,"theta":0,"theta2":6.2832},"encoding":{"radius":{"field":"g","type":"quantitative","stack":false,"scale":{"type":"linear","domain":[0,0.012],"range":[0,95]}}}},
 {"data":{"name":"an3a"},"mark":{"type":"arc","stroke":"black","strokeWidth":0.8},"encoding":{"theta":{"field":"a0","type":"quantitative","scale":{"domain":[0,360],"range":[1.5708,-4.7124]}},"theta2":{"field":"a1"},"radius":{"field":"r","type":"quantitative","stack":false,"scale":{"type":"linear","domain":[0,0.012],"range":[0,95]}},"fill":{"field":"s","type":"nominal","scale":{"domain":["+","-"],"range":["white","#8a8a8a"]},"legend":null}}},
 {"data":{"values":[{}]},"mark":{"type":"arc","filled":false,"stroke":"#1a1a55","strokeWidth":1.5,"theta":0,"theta2":6.2832},"encoding":{"radius":{"datum":0.012,"type":"quantitative","scale":{"type":"linear","domain":[0,0.012],"range":[0,95]}}}},
 {"data":{"values":[{}]},"mark":{"type":"rect","fill":"white"},"encoding":{"x":{"datum":-0.003799,"type":"quantitative","scale":{"domain":[-0.012,0.012]},"axis":null},"x2":{"datum":-0.002789},"y":{"datum":0.001627,"type":"quantitative","scale":{"domain":[-0.012,0.012]},"axis":null},"y2":{"datum":0.003901}}},
 {"data":{"values":[{}]},"mark":{"type":"rect","fill":"white"},"encoding":{"x":{"datum":0.001998,"type":"quantitative","scale":{"domain":[-0.012,0.012]},"axis":null},"x2":{"datum":0.003514},"y":{"datum":0.002349,"type":"quantitative","scale":{"domain":[-0.012,0.012]},"axis":null},"y2":{"datum":0.003991}}},
 {"data":{"values":[{}]},"mark":{"type":"rect","fill":"white"},"encoding":{"x":{"datum":-0.003344,"type":"quantitative","scale":{"domain":[-0.012,0.012]},"axis":null},"x2":{"datum":-0.001828},"y":{"datum":-0.004381,"type":"quantitative","scale":{"domain":[-0.012,0.012]},"axis":null},"y2":{"datum":-0.002739}}},
 {"data":{"values":[{}]},"mark":{"type":"rect","fill":"white"},"encoding":{"x":{"datum":0.002865,"type":"quantitative","scale":{"domain":[-0.012,0.012]},"axis":null},"x2":{"datum":0.003875},"y":{"datum":-0.003965,"type":"quantitative","scale":{"domain":[-0.012,0.012]},"axis":null},"y2":{"datum":-0.001691}}},
 {"data":{"values":[{"a":140,"r":0.0043,"t":"-"},{"a":49,"r":0.0042,"t":"+"},{"a":234,"r":0.0044,"t":"+"},{"a":320,"r":0.0044,"t":"-"}]},"mark":{"type":"text","font":"Liberation Sans","fontWeight":"bold","fontSize":16,"color":"black"},"encoding":{"theta":{"field":"a","type":"quantitative","stack":false,"scale":{"domain":[0,360],"range":[1.5708,-4.7124]}},"radius":{"field":"r","type":"quantitative","stack":false,"scale":{"type":"linear","domain":[0,0.012],"range":[0,95]}},"text":{"field":"t"}}},
 {"data":{"values":[{}]},"mark":{"type":"rule","color":"#8000ff","strokeWidth":1.5},"encoding":{"x":{"datum":0,"type":"quantitative","scale":{"domain":[-0.012,0.012]},"axis":null},"y":{"datum":0,"type":"quantitative","scale":{"domain":[-0.012,0.012]},"axis":null},"x2":{"datum":0.00884},"y2":{"datum":0.01175}}},
 {"data":{"values":[{}]},"mark":{"type":"rule","color":"#8000ff","strokeWidth":1.5},"encoding":{"x":{"datum":0.00632,"type":"quantitative","scale":{"domain":[-0.012,0.012]},"axis":null},"x2":{"datum":0.01137},"y":{"datum":0.00758,"type":"quantitative","scale":{"domain":[-0.012,0.012]},"axis":null}}},
 {"data":{"values":[{}]},"mark":{"type":"point","shape":"triangle-up","filled":true,"color":"#8000ff","size":60,"angle":37,"opacity":1},"encoding":{"x":{"datum":0.00884,"type":"quantitative","scale":{"domain":[-0.012,0.012]},"axis":null},"y":{"datum":0.01175,"type":"quantitative","scale":{"domain":[-0.012,0.012]},"axis":null}}},
 {"data":{"values":[{}]},"mark":{"type":"text","text":"α₃ᶠ /2","font":"Liberation Serif","fontStyle":"italic","fontSize":15,"color":"#333333"},"encoding":{"x":{"datum":0.00947,"type":"quantitative","scale":{"domain":[-0.012,0.012]},"axis":null},"y":{"datum":0.00884,"type":"quantitative","scale":{"domain":[-0.012,0.012]},"axis":null}}},
 {"data":{"values":[{}]},"mark":{"type":"rule","color":"black","strokeWidth":1},"encoding":{"x":{"datum":0.00038,"type":"quantitative","scale":{"domain":[-0.012,0.012]},"axis":null},"y":{"datum":-0.00088,"type":"quantitative","scale":{"domain":[-0.012,0.012]},"axis":null},"x2":{"datum":-0.00164},"y2":{"datum":-0.0067}}},
 {"data":{"values":[{}]},"mark":{"type":"point","shape":"triangle-up","filled":true,"color":"black","size":30,"angle":-160.9,"opacity":1},"encoding":{"x":{"datum":-0.00164,"type":"quantitative","scale":{"domain":[-0.012,0.012]},"axis":null},"y":{"datum":-0.0067,"type":"quantitative","scale":{"domain":[-0.012,0.012]},"axis":null}}},
 {"data":{"values":[{}]},"mark":{"type":"rule","color":"black","strokeWidth":2},"encoding":{"x":{"datum":-0.00505,"type":"quantitative","scale":{"domain":[-0.012,0.012]},"axis":null},"y":{"datum":-0.0053,"type":"quantitative","scale":{"domain":[-0.012,0.012]},"axis":null},"x2":{"datum":-0.00038},"y2":{"datum":-0.00821}}},
 {"data":{"values":[{}]},"mark":{"type":"text","text":"f₀B₃ᶠ","font":"Liberation Serif","fontStyle":"italic","fontSize":10,"color":"#555555"},"encoding":{"x":{"datum":0.0008,"type":"quantitative","scale":{"domain":[-0.012,0.012]},"axis":null},"y":{"datum":-0.0075,"type":"quantitative","scale":{"domain":[-0.012,0.012]},"axis":null}}},
 {"data":{"values":[{}]},"mark":{"type":"text","text":"Anisotropic term: 3rd rank","font":"Liberation Sans","fontSize":19.5,"color":"black","baseline":"alphabetic"},"encoding":{"x":{"datum":-0.00101,"type":"quantitative","scale":{"domain":[-0.012,0.012]},"axis":null},"y":{"datum":0.01453,"type":"quantitative","scale":{"domain":[-0.012,0.012]},"axis":null}}},
 {"data":{"values":[{}]},"mark":{"type":"rule","color":"black","strokeWidth":1.5},"encoding":{"x":{"datum":-0.01503,"type":"quantitative","scale":{"domain":[-0.012,0.012]},"axis":null},"x2":{"datum":0.01301},"y":{"datum":0.01415,"type":"quantitative","scale":{"domain":[-0.012,0.012]},"axis":null}}}
]},
{"width":348,"height":72,"data":{"values":[{}]},"mark":{"type":"text","text":""},"encoding":{}},
{"width":346,"height":1,"data":{"values":[{}]},"mark":{"type":"text","text":""},"encoding":{}},
{"width":1,"height":1,"data":{"values":[{}]},"mark":{"type":"text","text":""},"encoding":{}},
{"width":1,"height":1,"data":{"values":[{}]},"mark":{"type":"text","text":""},"encoding":{}},
{"width":260,"height":260,"resolve":{"scale":{"theta":"independent"},"axis":{"y":"independent"}},"layer":[
 {"data":{"name":"sp"},"mark":{"type":"arc","filled":false,"stroke":"#d2d2d2","strokeWidth":1},"encoding":{"x":{"datum":0,"type":"quantitative","scale":{"domain":[-0.280385,0.019615]},"axis":null},"y":{"datum":0,"type":"quantitative","scale":{"domain":[-0.15,0.15]},"axis":null},"theta":{"aggregate":"count","type":"quantitative","stack":true},"order":{"field":"k","type":"quantitative"},"radius":{"datum":0.15,"type":"quantitative","scale":{"type":"linear","domain":[0,0.15],"range":[0,130]}}}},
 {"data":{"name":"sp"},"transform":[{"filter":"datum.k % 2 == 0"}],"mark":{"type":"arc","filled":false,"stroke":"#8c8c8c","strokeWidth":1},"encoding":{"x":{"datum":0,"type":"quantitative","scale":{"domain":[-0.280385,0.019615]},"axis":null},"y":{"datum":0,"type":"quantitative","scale":{"domain":[-0.15,0.15]},"axis":null},"theta":{"aggregate":"count","type":"quantitative","stack":true},"order":{"field":"k","type":"quantitative"},"radius":{"datum":0.15,"type":"quantitative","scale":{"type":"linear","domain":[0,0.15],"range":[0,130]}}}},
 {"data":{"values":[{}]},"mark":{"type":"rule","color":"#333333"},"encoding":{"x":{"datum":0,"type":"quantitative","scale":{"domain":[-0.280385,0.019615]},"axis":null},"y":{"datum":-0.15,"type":"quantitative","scale":{"domain":[-0.15,0.15]},"axis":{"orient":"left","title":"Normal Contact Force (N)","titleFont":"Liberation Sans","titleFontWeight":"bold","titleFontSize":16.5,"titleColor":"black","titlePadding":10,"offset":-72,"grid":false,"values":[-0.15,-0.1,-0.05,0,0.05,0.1,0.15],"labelExpr":"format(abs(datum.value), '.2f')","tickSize":5,"domainColor":"black","tickColor":"black","labelColor":"black","labelFont":"Liberation Sans","labelFontWeight":"bold","labelFontSize":13,"labelPadding":2,"labelOverlap":false,"labelFlush":false}},"y2":{"datum":0.15}}},
 {"data":{"values":[{}]},"mark":{"type":"rule","color":"#333333"},"encoding":{"x":{"datum":-0.15,"type":"quantitative","scale":{"domain":[-0.280385,0.019615]},"axis":null},"x2":{"datum":0.15},"y":{"datum":0,"type":"quantitative","scale":{"domain":[-0.15,0.15]},"axis":{"orient":"left","title":null,"offset":-72,"grid":false,"values":[-0.15,-0.125,-0.1,-0.075,-0.05,-0.025,0,0.025,0.05,0.075,0.1,0.125,0.15],"labels":false,"domain":false,"tickSize":2.5,"tickColor":"black"}}}},
 {"data":{"values":[{"g":0.05},{"g":0.1}]},"mark":{"type":"arc","filled":false,"stroke":"#3a3aff","strokeWidth":1,"strokeDash":[2,2],"theta":0,"theta2":6.2832},"encoding":{"x":{"datum":0,"type":"quantitative","scale":{"domain":[-0.280385,0.019615]},"axis":null},"y":{"datum":0,"type":"quantitative","scale":{"domain":[-0.15,0.15]},"axis":null},"radius":{"field":"g","type":"quantitative","stack":false,"scale":{"type":"linear","domain":[0,0.15],"range":[0,130]}}}},
 {"data":{"values":[{"g":0.025},{"g":0.075},{"g":0.125}]},"mark":{"type":"arc","filled":false,"stroke":"#22dd22","strokeWidth":1.3,"theta":0,"theta2":6.2832},"encoding":{"x":{"datum":0,"type":"quantitative","scale":{"domain":[-0.280385,0.019615]},"axis":null},"y":{"datum":0,"type":"quantitative","scale":{"domain":[-0.15,0.15]},"axis":null},"radius":{"field":"g","type":"quantitative","stack":false,"scale":{"type":"linear","domain":[0,0.15],"range":[0,130]}}}},
 {"data":{"name":"nrm"},"mark":{"type":"arc","stroke":"black","strokeWidth":0.8,"fill":{"gradient":"linear","x1":0,"y1":0,"x2":1,"y2":1,"stops":[{"offset":0,"color":"#c4c4c4"},{"offset":0.04,"color":"#c4c4c4"},{"offset":0.04,"color":"#333333"},{"offset":0.05,"color":"#333333"},{"offset":0.05,"color":"#c4c4c4"},{"offset":0.09,"color":"#c4c4c4"},{"offset":0.09,"color":"#333333"},{"offset":0.1,"color":"#333333"},{"offset":0.1,"color":"#c4c4c4"},{"offset":0.14,"color":"#c4c4c4"},{"offset":0.14,"color":"#333333"},{"offset":0.15,"color":"#333333"},{"offset":0.15,"color":"#c4c4c4"},{"offset":0.19,"color":"#c4c4c4"},{"offset":0.19,"color":"#333333"},{"offset":0.2,"color":"#333333"},{"offset":0.2,"color":"#c4c4c4"},{"offset":0.24,"color":"#c4c4c4"},{"offset":0.24,"color":"#333333"},{"offset":0.25,"color":"#333333"},{"offset":0.25,"color":"#c4c4c4"},{"offset":0.29,"color":"#c4c4c4"},{"offset":0.29,"color":"#333333"},{"offset":0.3,"color":"#333333"},{"offset":0.3,"color":"#c4c4c4"},{"offset":0.34,"color":"#c4c4c4"},{"offset":0.34,"color":"#333333"},{"offset":0.35,"color":"#333333"},{"offset":0.35,"color":"#c4c4c4"},{"offset":0.39,"color":"#c4c4c4"},{"offset":0.39,"color":"#333333"},{"offset":0.4,"color":"#333333"},{"offset":0.4,"color":"#c4c4c4"},{"offset":0.44,"color":"#c4c4c4"},{"offset":0.44,"color":"#333333"},{"offset":0.45,"color":"#333333"},{"offset":0.45,"color":"#c4c4c4"},{"offset":0.49,"color":"#c4c4c4"},{"offset":0.49,"color":"#333333"},{"offset":0.5,"color":"#333333"},{"offset":0.5,"color":"#c4c4c4"},{"offset":0.54,"color":"#c4c4c4"},{"offset":0.54,"color":"#333333"},{"offset":0.55,"color":"#333333"},{"offset":0.55,"color":"#c4c4c4"},{"offset":0.59,"color":"#c4c4c4"},{"offset":0.59,"color":"#333333"},{"offset":0.6,"color":"#333333"},{"offset":0.6,"color":"#c4c4c4"},{"offset":0.64,"color":"#c4c4c4"},{"offset":0.64,"color":"#333333"},{"offset":0.65,"color":"#333333"},{"offset":0.65,"color":"#c4c4c4"},{"offset":0.69,"color":"#c4c4c4"},{"offset":0.69,"color":"#333333"},{"offset":0.7,"color":"#333333"},{"offset":0.7,"color":"#c4c4c4"},{"offset":0.74,"color":"#c4c4c4"},{"offset":0.74,"color":"#333333"},{"offset":0.75,"color":"#333333"},{"offset":0.75,"color":"#c4c4c4"},{"offset":0.79,"color":"#c4c4c4"},{"offset":0.79,"color":"#333333"},{"offset":0.8,"color":"#333333"},{"offset":0.8,"color":"#c4c4c4"},{"offset":0.84,"color":"#c4c4c4"},{"offset":0.84,"color":"#333333"},{"offset":0.85,"color":"#333333"},{"offset":0.85,"color":"#c4c4c4"},{"offset":0.89,"color":"#c4c4c4"},{"offset":0.89,"color":"#333333"},{"offset":0.9,"color":"#333333"},{"offset":0.9,"color":"#c4c4c4"},{"offset":0.94,"color":"#c4c4c4"},{"offset":0.94,"color":"#333333"},{"offset":0.95,"color":"#333333"},{"offset":0.95,"color":"#c4c4c4"},{"offset":0.99,"color":"#c4c4c4"},{"offset":0.99,"color":"#333333"},{"offset":1,"color":"#333333"}]}},"encoding":{"x":{"datum":0,"type":"quantitative","scale":{"domain":[-0.280385,0.019615]},"axis":null},"y":{"datum":0,"type":"quantitative","scale":{"domain":[-0.15,0.15]},"axis":null},"theta":{"field":"a0","type":"quantitative","scale":{"domain":[0,360],"range":[1.5708,-4.7124]}},"theta2":{"field":"a1"},"radius":{"field":"r","type":"quantitative","stack":false,"scale":{"type":"linear","domain":[0,0.15],"range":[0,130]}}}},
 {"data":{"values":[{}]},"mark":{"type":"rect"},"encoding":{"x":{"datum":0,"type":"quantitative","scale":{"domain":[-0.280385,0.019615]},"axis":null},"x2":{"datum":0},"y":{"datum":0,"type":"quantitative","scale":{"domain":[-0.15,0.15]},"axis":null},"y2":{"datum":0},"fill":{"datum":"DEM data","type":"nominal","scale":{"range":["#b4b4b4"]},"legend":{"orient":"none","legendX":110,"legendY":-47,"title":null,"direction":"horizontal","symbolType":"M-1.85,-0.7H1.85V0.7H-1.85Z","symbolSize":400,"symbolStrokeColor":"black","symbolStrokeWidth":1,"labelOffset":13.5,"padding":0,"labelFont":"Liberation Sans","labelFontSize":16.5,"labelColor":"black"}}}},
 {"data":{"values":[{"g":0.078}]},"mark":{"type":"arc","filled":false,"stroke":"#ee2222","strokeWidth":1.3,"strokeDash":[5,4],"theta":0,"theta2":6.2832},"encoding":{"x":{"datum":0,"type":"quantitative","scale":{"domain":[-0.280385,0.019615]},"axis":null},"y":{"datum":0,"type":"quantitative","scale":{"domain":[-0.15,0.15]},"axis":null},"radius":{"field":"g","type":"quantitative","stack":false,"scale":{"type":"linear","domain":[0,0.15],"range":[0,130]}}}},
 {"data":{"values":[{}]},"mark":{"type":"arc","filled":false,"stroke":"#1a1a55","strokeWidth":1.5,"theta":0,"theta2":6.2832},"encoding":{"x":{"datum":0,"type":"quantitative","scale":{"domain":[-0.280385,0.019615]},"axis":null},"y":{"datum":0,"type":"quantitative","scale":{"domain":[-0.15,0.15]},"axis":null},"radius":{"datum":0.15,"type":"quantitative","scale":{"type":"linear","domain":[0,0.15],"range":[0,130]}}}},
 {"data":{"name":"eq13"},"mark":{"type":"text","text":"■","font":"DejaVu Sans","fontSize":9,"color":"black","strokeWidth":0.4},"encoding":{"x":{"datum":0,"type":"quantitative","scale":{"domain":[-0.280385,0.019615]},"axis":null},"y":{"datum":0,"type":"quantitative","scale":{"domain":[-0.15,0.15]},"axis":null},"theta":{"field":"a","type":"quantitative","stack":false,"scale":{"domain":[0,360],"range":[1.5708,-4.7124]}},"radius":{"field":"r","type":"quantitative","stack":false,"scale":{"type":"linear","domain":[0,0.15],"range":[0,130]}},"stroke":{"datum":"Eq.(13)","type":"nominal","scale":{"range":["black"]},"legend":{"orient":"none","legendX":248,"legendY":-47,"title":null,"direction":"horizontal","symbolType":"M-2.05,0H2.05M-0.3,-0.3H0.3V0.3H-0.3Z","symbolSize":400,"symbolFillColor":"black","symbolStrokeColor":"black","symbolStrokeWidth":1,"labelOffset":13.5,"padding":0,"labelFont":"Liberation Sans","labelFontSize":16.5,"labelColor":"black"}}}},
 {"data":{"values":[{}]},"mark":{"type":"rule","color":"#8000ff","strokeWidth":2.5},"encoding":{"x":{"datum":0,"type":"quantitative","scale":{"domain":[-0.280385,0.019615]},"axis":null},"y":{"datum":0,"type":"quantitative","scale":{"domain":[-0.15,0.15]},"axis":null},"x2":{"datum":0.0981},"y2":{"datum":0.1131}}},
 {"data":{"values":[{}]},"mark":{"type":"rule","color":"#8000ff","strokeWidth":2},"encoding":{"x":{"datum":0.0623,"type":"quantitative","scale":{"domain":[-0.280385,0.019615]},"axis":null},"x2":{"datum":0.1292},"y":{"datum":0.0692,"type":"quantitative","scale":{"domain":[-0.15,0.15]},"axis":null}}},
 {"data":{"values":[{}]},"mark":{"type":"point","shape":"triangle-up","filled":true,"color":"#8000ff","size":130,"angle":40.9,"opacity":1},"encoding":{"x":{"datum":0.0981,"type":"quantitative","scale":{"domain":[-0.280385,0.019615]},"axis":null},"y":{"datum":0.1131,"type":"quantitative","scale":{"domain":[-0.15,0.15]},"axis":null}}},
 {"data":{"values":[{}]},"mark":{"type":"text","text":"φₙᶠ /2","font":"Liberation Serif","fontStyle":"italic","fontSize":18,"color":"#222222"},"encoding":{"x":{"datum":0.1154,"type":"quantitative","scale":{"domain":[-0.280385,0.019615]},"axis":null},"y":{"datum":0.0877,"type":"quantitative","scale":{"domain":[-0.15,0.15]},"axis":null}}},
 {"data":{"values":[{}]},"mark":{"type":"rule","color":"black","strokeWidth":1.5},"encoding":{"x":{"datum":-0.0577,"type":"quantitative","scale":{"domain":[-0.280385,0.019615]},"axis":null},"y":{"datum":-0.0542,"type":"quantitative","scale":{"domain":[-0.15,0.15]},"axis":null},"x2":{"datum":0},"y2":{"datum":-0.1038}}},
 {"data":{"values":[{}]},"mark":{"type":"rule","color":"black","strokeWidth":2},"encoding":{"x":{"datum":-0.0842,"type":"quantitative","scale":{"domain":[-0.280385,0.019615]},"axis":null},"y":{"datum":-0.0831,"type":"quantitative","scale":{"domain":[-0.15,0.15]},"axis":null},"x2":{"datum":-0.0231},"y2":{"datum":-0.135}}},
 {"data":{"values":[{}]},"mark":{"type":"rule","color":"black","strokeWidth":1.5},"encoding":{"x":{"datum":-0.0185,"type":"quantitative","scale":{"domain":[-0.280385,0.019615]},"axis":null},"y":{"datum":-0.1096,"type":"quantitative","scale":{"domain":[-0.15,0.15]},"axis":null},"x2":{"datum":-0.0312},"y2":{"datum":-0.1223}}},
 {"data":{"values":[{}]},"mark":{"type":"point","shape":"triangle-up","filled":true,"color":"black","size":50,"angle":-135,"opacity":1},"encoding":{"x":{"datum":-0.0312,"type":"quantitative","scale":{"domain":[-0.280385,0.019615]},"axis":null},"y":{"datum":-0.1223,"type":"quantitative","scale":{"domain":[-0.15,0.15]},"axis":null}}},
 {"data":{"values":[{}]},"mark":{"type":"text","text":"f₀Cₙᶠ","font":"Liberation Serif","fontStyle":"italic","fontSize":18,"color":"#222222"},"encoding":{"x":{"datum":0.0112,"type":"quantitative","scale":{"domain":[-0.280385,0.019615]},"axis":null},"y":{"datum":-0.1268,"type":"quantitative","scale":{"domain":[-0.15,0.15]},"axis":null}}},
 {"data":{"values":[{}]},"mark":{"type":"text","text":"f₀","font":"Liberation Serif","fontStyle":"italic","fontSize":17,"color":"#222222"},"encoding":{"x":{"datum":0.0658,"type":"quantitative","scale":{"domain":[-0.280385,0.019615]},"axis":null},"y":{"datum":-0.0485,"type":"quantitative","scale":{"domain":[-0.15,0.15]},"axis":null}}},
 {"data":{"values":[{}]},"mark":{"type":"rect","fill":"white","stroke":"black","strokeWidth":1},"encoding":{"x":{"datum":-0.1719,"type":"quantitative","scale":{"domain":[-0.280385,0.019615]},"axis":null},"x2":{"datum":-0.0577},"y":{"datum":0.1685,"type":"quantitative","scale":{"domain":[-0.15,0.15]},"axis":null},"y2":{"datum":0.0635}}},
 {"data":{"values":[{"t":"f₀ = 0.078N","y":0.1477},{"t":"cₙᶠ = 0.44","y":0.1165},{"t":"φₙᶠ = 99.99°","y":0.0865}]},"mark":{"type":"text","align":"left","font":"Liberation Serif","fontSize":17,"color":"black"},"encoding":{"x":{"datum":-0.1615,"type":"quantitative","scale":{"domain":[-0.280385,0.019615]},"axis":null},"y":{"field":"y","type":"quantitative","scale":{"domain":[-0.15,0.15]},"axis":null},"text":{"field":"t"}}},
 {"data":{"values":[{}]},"mark":{"type":"text","text":"=","font":"Liberation Sans","fontWeight":"bold","fontSize":70,"color":"black"},"encoding":{"x":{"datum":-0.30577,"type":"quantitative","scale":{"domain":[-0.280385,0.019615]},"axis":null},"y":{"datum":-0.00289,"type":"quantitative","scale":{"domain":[-0.15,0.15]},"axis":null}}}
]},
{"width":1,"height":1,"data":{"values":[{}]},"mark":{"type":"text","text":""},"encoding":{}},
{"width":1,"height":147,"data":{"values":[{}]},"mark":{"type":"text","text":""},"encoding":{}},
{"width":1,"height":1,"data":{"values":[{}]},"mark":{"type":"text","text":""},"encoding":{}},
{"width":1,"height":1,"data":{"values":[{}]},"mark":{"type":"text","text":""},"encoding":{}},
{"width":242,"height":242,"resolve":{"scale":{"theta":"independent"},"axis":{"y":"independent"}},"layer":[
 {"data":{"name":"sp"},"mark":{"type":"arc","filled":false,"stroke":"#d2d2d2","strokeWidth":1},"encoding":{"x":{"datum":0,"type":"quantitative","scale":{"domain":[-0.037021,0.040213]},"axis":null},"y":{"datum":0,"type":"quantitative","scale":{"domain":[-0.03,0.047234]},"axis":null},"theta":{"aggregate":"count","type":"quantitative","stack":true},"order":{"field":"k","type":"quantitative"},"radius":{"datum":0.03,"type":"quantitative","scale":{"type":"linear","domain":[0,0.03],"range":[0,94]}}}},
 {"data":{"name":"sp"},"transform":[{"filter":"datum.k % 2 == 0"}],"mark":{"type":"arc","filled":false,"stroke":"#8c8c8c","strokeWidth":1},"encoding":{"x":{"datum":0,"type":"quantitative","scale":{"domain":[-0.037021,0.040213]},"axis":null},"y":{"datum":0,"type":"quantitative","scale":{"domain":[-0.03,0.047234]},"axis":null},"theta":{"aggregate":"count","type":"quantitative","stack":true},"order":{"field":"k","type":"quantitative"},"radius":{"datum":0.03,"type":"quantitative","scale":{"type":"linear","domain":[0,0.03],"range":[0,94]}}}},
 {"data":{"values":[{}]},"mark":{"type":"rule","color":"#333333"},"encoding":{"x":{"datum":0,"type":"quantitative","scale":{"domain":[-0.037021,0.040213]},"axis":null},"y":{"datum":-0.03,"type":"quantitative","scale":{"domain":[-0.03,0.047234]},"axis":{"orient":"left","title":null,"offset":5,"grid":false,"values":[-0.03,-0.02,-0.01,0,0.01,0.02,0.03],"labelExpr":"format(abs(datum.value), '.2f')","tickSize":5,"domain":false,"tickColor":"black","labelColor":"black","labelFont":"Liberation Sans","labelFontWeight":"bold","labelFontSize":13,"labelPadding":2,"labelOverlap":false,"labelFlush":false}},"y2":{"datum":0.03}}},
 {"data":{"values":[{}]},"mark":{"type":"rule","color":"#333333"},"encoding":{"x":{"datum":-0.03,"type":"quantitative","scale":{"domain":[-0.037021,0.040213]},"axis":null},"x2":{"datum":0.03},"y":{"datum":0,"type":"quantitative","scale":{"domain":[-0.03,0.047234]},"axis":{"orient":"left","title":null,"offset":5,"grid":false,"values":[-0.03,-0.0275,-0.025,-0.0225,-0.02,-0.0175,-0.015,-0.0125,-0.01,-0.0075,-0.005,-0.0025,0,0.0025,0.005,0.0075,0.01,0.0125,0.015,0.0175,0.02,0.0225,0.025,0.0275,0.03],"labels":false,"domain":false,"tickSize":2.5,"tickColor":"black"}}}},
 {"data":{"values":[{}]},"mark":{"type":"rule","color":"black","strokeWidth":1},"encoding":{"x":{"datum":-0.038617,"type":"quantitative","scale":{"domain":[-0.037021,0.040213]},"axis":null},"y":{"datum":-0.03,"type":"quantitative","scale":{"domain":[-0.03,0.047234]},"axis":null},"y2":{"datum":0.03}}},
 {"data":{"values":[{"g":0.01},{"g":0.02}]},"mark":{"type":"arc","filled":false,"stroke":"#2a2aff","strokeWidth":1,"strokeDash":[4,3],"theta":0,"theta2":6.2832},"encoding":{"x":{"datum":0,"type":"quantitative","scale":{"domain":[-0.037021,0.040213]},"axis":null},"y":{"datum":0,"type":"quantitative","scale":{"domain":[-0.03,0.047234]},"axis":null},"radius":{"field":"g","type":"quantitative","stack":false,"scale":{"type":"linear","domain":[0,0.03],"range":[0,94]}}}},
 {"data":{"name":"b1"},"mark":{"type":"arc","stroke":"black","strokeWidth":0.8},"encoding":{"x":{"datum":0,"type":"quantitative","scale":{"domain":[-0.037021,0.040213]},"axis":null},"y":{"datum":0,"type":"quantitative","scale":{"domain":[-0.03,0.047234]},"axis":null},"theta":{"field":"a0","type":"quantitative","scale":{"domain":[0,360],"range":[1.5708,-4.7124]}},"theta2":{"field":"a1"},"radius":{"field":"r","type":"quantitative","stack":false,"scale":{"type":"linear","domain":[0,0.03],"range":[0,94]}},"fill":{"field":"s","type":"nominal","scale":{"domain":["+","-"],"range":["white","#7a7a7a"]},"legend":null}}},
 {"data":{"values":[{}]},"mark":{"type":"arc","filled":false,"stroke":"#1a1a55","strokeWidth":1.5,"theta":0,"theta2":6.2832},"encoding":{"x":{"datum":0,"type":"quantitative","scale":{"domain":[-0.037021,0.040213]},"axis":null},"y":{"datum":0,"type":"quantitative","scale":{"domain":[-0.03,0.047234]},"axis":null},"radius":{"datum":0.03,"type":"quantitative","scale":{"type":"linear","domain":[0,0.03],"range":[0,94]}}}},
 {"data":{"values":[{}]},"mark":{"type":"rect","fill":"white"},"encoding":{"x":{"datum":-0.001436,"type":"quantitative","scale":{"domain":[-0.037021,0.040213]},"axis":null},"x2":{"datum":0.001436},"y":{"datum":0.013389,"type":"quantitative","scale":{"domain":[-0.03,0.047234]},"axis":null},"y2":{"datum":0.020411}}},
 {"data":{"values":[{}]},"mark":{"type":"rect","fill":"white"},"encoding":{"x":{"datum":-0.001436,"type":"quantitative","scale":{"domain":[-0.037021,0.040213]},"axis":null},"x2":{"datum":0.001436},"y":{"datum":-0.020411,"type":"quantitative","scale":{"domain":[-0.03,0.047234]},"axis":null},"y2":{"datum":-0.013389}}},
 {"data":{"values":[{}]},"mark":{"type":"rect","fill":"white"},"encoding":{"x":{"datum":-0.018671,"type":"quantitative","scale":{"domain":[-0.037021,0.040213]},"axis":null},"x2":{"datum":-0.014523},"y":{"datum":-0.002524,"type":"quantitative","scale":{"domain":[-0.03,0.047234]},"axis":null},"y2":{"datum":0.001944}}},
 {"data":{"values":[{}]},"mark":{"type":"rect","fill":"white"},"encoding":{"x":{"datum":0.017426,"type":"quantitative","scale":{"domain":[-0.037021,0.040213]},"axis":null},"x2":{"datum":0.021574},"y":{"datum":-0.002234,"type":"quantitative","scale":{"domain":[-0.03,0.047234]},"axis":null},"y2":{"datum":0.002234}}},
 {"data":{"values":[{"a":90,"r":0.0169,"t":"-"},{"a":270,"r":0.0169,"t":"-"},{"a":181,"r":0.0166,"t":"+"},{"a":0,"r":0.0195,"t":"+"}]},"mark":{"type":"text","font":"Liberation Sans","fontWeight":"bold","fontSize":18,"color":"black"},"encoding":{"x":{"datum":0,"type":"quantitative","scale":{"domain":[-0.037021,0.040213]},"axis":null},"y":{"datum":0,"type":"quantitative","scale":{"domain":[-0.03,0.047234]},"axis":null},"theta":{"field":"a","type":"quantitative","stack":false,"scale":{"domain":[0,360],"range":[1.5708,-4.7124]}},"radius":{"field":"r","type":"quantitative","stack":false,"scale":{"type":"linear","domain":[0,0.03],"range":[0,94]}},"text":{"field":"t"}}},
 {"data":{"values":[{}]},"mark":{"type":"rule","color":"#8000ff","strokeWidth":1.5},"encoding":{"x":{"datum":0,"type":"quantitative","scale":{"domain":[-0.037021,0.040213]},"axis":null},"y":{"datum":0,"type":"quantitative","scale":{"domain":[-0.03,0.047234]},"axis":null},"x2":{"datum":0.0284},"y2":{"datum":0.0322}}},
 {"data":{"values":[{}]},"mark":{"type":"rule","color":"#8000ff","strokeWidth":1.5},"encoding":{"x":{"datum":0.01564,"type":"quantitative","scale":{"domain":[-0.037021,0.040213]},"axis":null},"x2":{"datum":0.02872},"y":{"datum":0.01787,"type":"quantitative","scale":{"domain":[-0.03,0.047234]},"axis":null}}},
 {"data":{"values":[{}]},"mark":{"type":"point","shape":"triangle-up","filled":true,"color":"#8000ff","size":60,"angle":41.4,"opacity":1},"encoding":{"x":{"datum":0.0284,"type":"quantitative","scale":{"domain":[-0.037021,0.040213]},"axis":null},"y":{"datum":0.0322,"type":"quantitative","scale":{"domain":[-0.03,0.047234]},"axis":null}}},
 {"data":{"values":[{}]},"mark":{"type":"text","text":"β₁ᶠ /2","font":"Liberation Serif","fontStyle":"italic","fontSize":15,"color":"#333333"},"encoding":{"x":{"datum":0.02553,"type":"quantitative","scale":{"domain":[-0.037021,0.040213]},"axis":null},"y":{"datum":0.02106,"type":"quantitative","scale":{"domain":[-0.03,0.047234]},"axis":null}}},
 {"data":{"values":[{}]},"mark":{"type":"rule","color":"black","strokeWidth":1},"encoding":{"x":{"datum":0.00957,"type":"quantitative","scale":{"domain":[-0.037021,0.040213]},"axis":null},"y":{"datum":-0.0003,"type":"quantitative","scale":{"domain":[-0.03,0.047234]},"axis":null},"x2":{"datum":0.01245},"y2":{"datum":-0.02521}}},
 {"data":{"values":[{}]},"mark":{"type":"point","shape":"triangle-up","filled":true,"color":"black","size":30,"angle":173.4,"opacity":1},"encoding":{"x":{"datum":0.01245,"type":"quantitative","scale":{"domain":[-0.037021,0.040213]},"axis":null},"y":{"datum":-0.02521,"type":"quantitative","scale":{"domain":[-0.03,0.047234]},"axis":null}}},
 {"data":{"values":[{}]},"mark":{"type":"rule","color":"black","strokeWidth":2},"encoding":{"x":{"datum":0,"type":"quantitative","scale":{"domain":[-0.037021,0.040213]},"axis":null},"y":{"datum":-0.0268,"type":"quantitative","scale":{"domain":[-0.03,0.047234]},"axis":null},"x2":{"datum":0.015},"y2":{"datum":-0.0255}}},
 {"data":{"values":[{}]},"mark":{"type":"text","text":"f₀B₁ᶠ","font":"Liberation Serif","fontStyle":"italic","fontSize":11,"color":"#555555"},"encoding":{"x":{"datum":0.015,"type":"quantitative","scale":{"domain":[-0.037021,0.040213]},"axis":null},"y":{"datum":-0.0121,"type":"quantitative","scale":{"domain":[-0.03,0.047234]},"axis":null}}},
 {"data":{"values":[{}]},"mark":{"type":"text","text":"Anisotropic term: 1st rank","font":"Liberation Sans","fontSize":19.5,"color":"black","baseline":"alphabetic"},"encoding":{"x":{"datum":-0.00191,"type":"quantitative","scale":{"domain":[-0.037021,0.040213]},"axis":null},"y":{"datum":0.03744,"type":"quantitative","scale":{"domain":[-0.03,0.047234]},"axis":null}}},
 {"data":{"values":[{}]},"mark":{"type":"rule","color":"black","strokeWidth":1.5},"encoding":{"x":{"datum":-0.03734,"type":"quantitative","scale":{"domain":[-0.037021,0.040213]},"axis":null},"x2":{"datum":0.03352},"y":{"datum":0.03638,"type":"quantitative","scale":{"domain":[-0.03,0.047234]},"axis":null}}},
 {"data":{"values":[{}]},"mark":{"type":"text","text":"(b)","font":"Liberation Serif","fontWeight":"bold","fontSize":23,"color":"black"},"encoding":{"x":{"datum":-0.045,"type":"quantitative","scale":{"domain":[-0.037021,0.040213]},"axis":null},"y":{"datum":0.04755,"type":"quantitative","scale":{"domain":[-0.03,0.047234]},"axis":null}}},
 {"data":{"values":[{}]},"mark":{"type":"text","text":"+","font":"Liberation Sans","fontWeight":"bold","fontSize":70,"color":"black"},"encoding":{"x":{"datum":0.046915,"type":"quantitative","scale":{"domain":[-0.037021,0.040213]},"axis":null},"y":{"datum":0.000639,"type":"quantitative","scale":{"domain":[-0.03,0.047234]},"axis":null}}}
]},
{"width":231,"height":231,"resolve":{"scale":{"theta":"independent"},"axis":{"y":"independent"}},"layer":[
 {"data":{"name":"sp"},"mark":{"type":"arc","filled":false,"stroke":"#d2d2d2","strokeWidth":1},"encoding":{"x":{"datum":0,"type":"quantitative","scale":{"domain":[-0.013787,0.015702]},"axis":null},"y":{"datum":0,"type":"quantitative","scale":{"domain":[-0.012,0.017489]},"axis":null},"theta":{"aggregate":"count","type":"quantitative","stack":true},"order":{"field":"k","type":"quantitative"},"radius":{"datum":0.012,"type":"quantitative","scale":{"type":"linear","domain":[0,0.012],"range":[0,94]}}}},
 {"data":{"name":"sp"},"transform":[{"filter":"datum.k % 2 == 0"}],"mark":{"type":"arc","filled":false,"stroke":"#8c8c8c","strokeWidth":1},"encoding":{"x":{"datum":0,"type":"quantitative","scale":{"domain":[-0.013787,0.015702]},"axis":null},"y":{"datum":0,"type":"quantitative","scale":{"domain":[-0.012,0.017489]},"axis":null},"theta":{"aggregate":"count","type":"quantitative","stack":true},"order":{"field":"k","type":"quantitative"},"radius":{"datum":0.012,"type":"quantitative","scale":{"type":"linear","domain":[0,0.012],"range":[0,94]}}}},
 {"data":{"values":[{}]},"mark":{"type":"rule","color":"#333333"},"encoding":{"x":{"datum":0,"type":"quantitative","scale":{"domain":[-0.013787,0.015702]},"axis":null},"y":{"datum":-0.012,"type":"quantitative","scale":{"domain":[-0.012,0.017489]},"axis":{"orient":"left","title":null,"offset":17,"grid":false,"values":[-0.012,-0.009,-0.006,-0.003,0,0.003,0.006,0.009,0.012],"labelExpr":"format(abs(datum.value), '.3f')","tickSize":5,"domain":false,"tickColor":"black","labelColor":"black","labelFont":"Liberation Sans","labelFontWeight":"bold","labelFontSize":13,"labelPadding":2,"labelOverlap":false,"labelFlush":false}},"y2":{"datum":0.012}}},
 {"data":{"values":[{}]},"mark":{"type":"rule","color":"#333333"},"encoding":{"x":{"datum":-0.012,"type":"quantitative","scale":{"domain":[-0.013787,0.015702]},"axis":null},"x2":{"datum":0.012},"y":{"datum":0,"type":"quantitative","scale":{"domain":[-0.012,0.017489]},"axis":{"orient":"left","title":null,"offset":17,"grid":false,"values":[-0.012,-0.011,-0.01,-0.009,-0.008,-0.007,-0.006,-0.005,-0.004,-0.003,-0.002,-0.001,0,0.001,0.002,0.003,0.004,0.005,0.006,0.007,0.008,0.009,0.01,0.011,0.012],"labels":false,"domain":false,"tickSize":2.5,"tickColor":"black"}}}},
 {"data":{"values":[{}]},"mark":{"type":"rule","color":"black","strokeWidth":1},"encoding":{"x":{"datum":-0.015957,"type":"quantitative","scale":{"domain":[-0.013787,0.015702]},"axis":null},"y":{"datum":-0.012,"type":"quantitative","scale":{"domain":[-0.012,0.017489]},"axis":null},"y2":{"datum":0.012}}},
 {"data":{"values":[{"g":0.003},{"g":0.006},{"g":0.009}]},"mark":{"type":"arc","filled":false,"stroke":"#2a2aff","strokeWidth":1,"theta":0,"theta2":6.2832},"encoding":{"x":{"datum":0,"type":"quantitative","scale":{"domain":[-0.013787,0.015702]},"axis":null},"y":{"datum":0,"type":"quantitative","scale":{"domain":[-0.012,0.017489]},"axis":null},"radius":{"field":"g","type":"quantitative","stack":false,"scale":{"type":"linear","domain":[0,0.012],"range":[0,94]}}}},
 {"data":{"name":"b3"},"mark":{"type":"arc","stroke":"black","strokeWidth":0.8},"encoding":{"x":{"datum":0,"type":"quantitative","scale":{"domain":[-0.013787,0.015702]},"axis":null},"y":{"datum":0,"type":"quantitative","scale":{"domain":[-0.012,0.017489]},"axis":null},"theta":{"field":"a0","type":"quantitative","scale":{"domain":[0,360],"range":[1.5708,-4.7124]}},"theta2":{"field":"a1"},"radius":{"field":"r","type":"quantitative","stack":false,"scale":{"type":"linear","domain":[0,0.012],"range":[0,94]}},"fill":{"field":"s","type":"nominal","scale":{"domain":["+","-"],"range":["white","#7a7a7a"]},"legend":null}}},
 {"data":{"values":[{}]},"mark":{"type":"arc","filled":false,"stroke":"#1a1a55","strokeWidth":1.5,"theta":0,"theta2":6.2832},"encoding":{"x":{"datum":0,"type":"quantitative","scale":{"domain":[-0.013787,0.015702]},"axis":null},"y":{"datum":0,"type":"quantitative","scale":{"domain":[-0.012,0.017489]},"axis":null},"radius":{"datum":0.012,"type":"quantitative","scale":{"type":"linear","domain":[0,0.012],"range":[0,94]}}}},
 {"data":{"values":[{}]},"mark":{"type":"rect","fill":"white"},"encoding":{"x":{"datum":-0.001471,"type":"quantitative","scale":{"domain":[-0.013787,0.015702]},"axis":null},"x2":{"datum":0.000189},"y":{"datum":0.003156,"type":"quantitative","scale":{"domain":[-0.012,0.017489]},"axis":null},"y2":{"datum":0.004944}}},
 {"data":{"values":[{}]},"mark":{"type":"rect","fill":"white"},"encoding":{"x":{"datum":-0.000306,"type":"quantitative","scale":{"domain":[-0.013787,0.015702]},"axis":null},"x2":{"datum":0.001354},"y":{"datum":-0.005162,"type":"quantitative","scale":{"domain":[-0.012,0.017489]},"axis":null},"y2":{"datum":-0.003374}}},
 {"data":{"values":[{}]},"mark":{"type":"rect","fill":"white"},"encoding":{"x":{"datum":-0.004643,"type":"quantitative","scale":{"domain":[-0.013787,0.015702]},"axis":null},"x2":{"datum":-0.003495},"y":{"datum":-0.001904,"type":"quantitative","scale":{"domain":[-0.012,0.017489]},"axis":null},"y2":{"datum":0.000904}}},
 {"data":{"values":[{}]},"mark":{"type":"rect","fill":"white"},"encoding":{"x":{"datum":0.003673,"type":"quantitative","scale":{"domain":[-0.013787,0.015702]},"axis":null},"x2":{"datum":0.004821},"y":{"datum":-0.000731,"type":"quantitative","scale":{"domain":[-0.012,0.017489]},"axis":null},"y2":{"datum":0.002077}}},
 {"data":{"values":[{"a":99,"r":0.0041,"t":"+"},{"a":277,"r":0.0043,"t":"+"},{"a":187,"r":0.0041,"t":"-"},{"a":9,"r":0.0043,"t":"-"}]},"mark":{"type":"text","font":"Liberation Sans","fontWeight":"bold","fontSize":17,"color":"black"},"encoding":{"x":{"datum":0,"type":"quantitative","scale":{"domain":[-0.013787,0.015702]},"axis":null},"y":{"datum":0,"type":"quantitative","scale":{"domain":[-0.012,0.017489]},"axis":null},"theta":{"field":"a","type":"quantitative","stack":false,"scale":{"domain":[0,360],"range":[1.5708,-4.7124]}},"radius":{"field":"r","type":"quantitative","stack":false,"scale":{"type":"linear","domain":[0,0.012],"range":[0,94]}},"text":{"field":"t"}}},
 {"data":{"values":[{}]},"mark":{"type":"rule","color":"#8000ff","strokeWidth":1.5},"encoding":{"x":{"datum":0,"type":"quantitative","scale":{"domain":[-0.013787,0.015702]},"axis":null},"y":{"datum":0,"type":"quantitative","scale":{"domain":[-0.012,0.017489]},"axis":null},"x2":{"datum":0.00753},"y2":{"datum":0.00957}}},
 {"data":{"values":[{}]},"mark":{"type":"rule","color":"#8000ff","strokeWidth":1.5},"encoding":{"x":{"datum":0.00434,"type":"quantitative","scale":{"domain":[-0.013787,0.015702]},"axis":null},"x2":{"datum":0.00983},"y":{"datum":0.00523,"type":"quantitative","scale":{"domain":[-0.012,0.017489]},"axis":null}}},
 {"data":{"values":[{}]},"mark":{"type":"point","shape":"triangle-up","filled":true,"color":"#8000ff","size":60,"angle":38.2,"opacity":1},"encoding":{"x":{"datum":0.00753,"type":"quantitative","scale":{"domain":[-0.013787,0.015702]},"axis":null},"y":{"datum":0.00957,"type":"quantitative","scale":{"domain":[-0.012,0.017489]},"axis":null}}},
 {"data":{"values":[{}]},"mark":{"type":"text","text":"α₃ᶠ /2","font":"Liberation Serif","fontStyle":"italic","fontSize":15,"color":"#333333"},"encoding":{"x":{"datum":0.00728,"type":"quantitative","scale":{"domain":[-0.013787,0.015702]},"axis":null},"y":{"datum":0.00651,"type":"quantitative","scale":{"domain":[-0.012,0.017489]},"axis":null}}},
 {"data":{"values":[{}]},"mark":{"type":"rule","color":"black","strokeWidth":1},"encoding":{"x":{"datum":0.00281,"type":"quantitative","scale":{"domain":[-0.013787,0.015702]},"axis":null},"y":{"datum":0,"type":"quantitative","scale":{"domain":[-0.012,0.017489]},"axis":null},"x2":{"datum":0.0037},"y2":{"datum":-0.00638}}},
 {"data":{"values":[{}]},"mark":{"type":"point","shape":"triangle-up","filled":true,"color":"black","size":30,"angle":172,"opacity":1},"encoding":{"x":{"datum":0.0037,"type":"quantitative","scale":{"domain":[-0.013787,0.015702]},"axis":null},"y":{"datum":-0.00638,"type":"quantitative","scale":{"domain":[-0.012,0.017489]},"axis":null}}},
 {"data":{"values":[{}]},"mark":{"type":"rule","color":"black","strokeWidth":2},"encoding":{"x":{"datum":0.00026,"type":"quantitative","scale":{"domain":[-0.013787,0.015702]},"axis":null},"y":{"datum":-0.00702,"type":"quantitative","scale":{"domain":[-0.012,0.017489]},"axis":null},"x2":{"datum":0.00472},"y2":{"datum":-0.00638}}},
 {"data":{"values":[{}]},"mark":{"type":"text","text":"f₀B₁ᶠ","font":"Liberation Serif","fontStyle":"italic","fontSize":11,"color":"#555555"},"encoding":{"x":{"datum":0.00498,"type":"quantitative","scale":{"domain":[-0.013787,0.015702]},"axis":null},"y":{"datum":-0.00383,"type":"quantitative","scale":{"domain":[-0.012,0.017489]},"axis":null}}},
 {"data":{"values":[{}]},"mark":{"type":"text","text":"Anisotropic term: 3rd rank","font":"Liberation Sans","fontSize":19.5,"color":"black","baseline":"alphabetic"},"encoding":{"x":{"datum":-0.00022,"type":"quantitative","scale":{"domain":[-0.013787,0.015702]},"axis":null},"y":{"datum":0.01464,"type":"quantitative","scale":{"domain":[-0.012,0.017489]},"axis":null}}},
 {"data":{"values":[{}]},"mark":{"type":"rule","color":"black","strokeWidth":1.5},"encoding":{"x":{"datum":-0.01433,"type":"quantitative","scale":{"domain":[-0.013787,0.015702]},"axis":null},"x2":{"datum":0.01389},"y":{"datum":0.01421,"type":"quantitative","scale":{"domain":[-0.012,0.017489]},"axis":null}}},
 {"data":{"values":[{}]},"mark":{"type":"text","text":"=","font":"Liberation Sans","fontWeight":"bold","fontSize":70,"color":"black"},"encoding":{"x":{"datum":0.016213,"type":"quantitative","scale":{"domain":[-0.013787,0.015702]},"axis":null},"y":{"datum":-0.00166,"type":"quantitative","scale":{"domain":[-0.012,0.017489]},"axis":null}}}
]},
{"width":260,"height":260,"resolve":{"scale":{"theta":"independent"},"axis":{"y":"independent"}},"layer":[
 {"data":{"name":"sp"},"mark":{"type":"arc","filled":false,"stroke":"#d2d2d2","strokeWidth":1},"encoding":{"x":{"datum":0,"type":"quantitative","scale":{"domain":[-0.033269,0.016731]},"axis":null},"y":{"datum":0,"type":"quantitative","scale":{"domain":[-0.025,0.025]},"axis":null},"theta":{"aggregate":"count","type":"quantitative","stack":true},"order":{"field":"k","type":"quantitative"},"radius":{"datum":0.025,"type":"quantitative","scale":{"type":"linear","domain":[0,0.025],"range":[0,130]}}}},
 {"data":{"name":"sp"},"transform":[{"filter":"datum.k % 2 == 0"}],"mark":{"type":"arc","filled":false,"stroke":"#8c8c8c","strokeWidth":1},"encoding":{"x":{"datum":0,"type":"quantitative","scale":{"domain":[-0.033269,0.016731]},"axis":null},"y":{"datum":0,"type":"quantitative","scale":{"domain":[-0.025,0.025]},"axis":null},"theta":{"aggregate":"count","type":"quantitative","stack":true},"order":{"field":"k","type":"quantitative"},"radius":{"datum":0.025,"type":"quantitative","scale":{"type":"linear","domain":[0,0.025],"range":[0,130]}}}},
 {"data":{"values":[{}]},"mark":{"type":"rule","color":"#333333"},"encoding":{"x":{"datum":0,"type":"quantitative","scale":{"domain":[-0.033269,0.016731]},"axis":null},"y":{"datum":-0.025,"type":"quantitative","scale":{"domain":[-0.025,0.025]},"axis":{"orient":"left","title":"Tangential Contact Force (N)","titleFont":"Liberation Sans","titleFontWeight":"bold","titleFontSize":16.5,"titleColor":"black","titlePadding":10,"offset":-4,"grid":false,"values":[-0.025,-0.02,-0.015,-0.01,-0.005,0,0.005,0.01,0.015,0.02,0.025],"labelExpr":"format(abs(datum.value), '.3f')","tickSize":5,"domainColor":"black","tickColor":"black","labelColor":"black","labelFont":"Liberation Sans","labelFontWeight":"bold","labelFontSize":13,"labelPadding":2,"labelOverlap":false,"labelFlush":false}},"y2":{"datum":0.025}}},
 {"data":{"values":[{}]},"mark":{"type":"rule","color":"#333333"},"encoding":{"x":{"datum":-0.025,"type":"quantitative","scale":{"domain":[-0.033269,0.016731]},"axis":null},"x2":{"datum":0.025},"y":{"datum":0,"type":"quantitative","scale":{"domain":[-0.025,0.025]},"axis":{"orient":"left","title":null,"offset":-4,"grid":false,"values":[-0.025,-0.0225,-0.02,-0.0175,-0.015,-0.0125,-0.01,-0.0075,-0.005,-0.0025,0,0.0025,0.005,0.0075,0.01,0.0125,0.015,0.0175,0.02,0.0225,0.025],"labels":false,"domain":false,"tickSize":2.5,"tickColor":"black"}}}},
 {"data":{"values":[{"g":0.005},{"g":0.01},{"g":0.015},{"g":0.02}]},"mark":{"type":"arc","filled":false,"stroke":"#3a3aff","strokeWidth":1,"strokeDash":[2,2],"theta":0,"theta2":6.2832},"encoding":{"x":{"datum":0,"type":"quantitative","scale":{"domain":[-0.033269,0.016731]},"axis":null},"y":{"datum":0,"type":"quantitative","scale":{"domain":[-0.025,0.025]},"axis":null},"radius":{"field":"g","type":"quantitative","stack":false,"scale":{"type":"linear","domain":[0,0.025],"range":[0,130]}}}},
 {"data":{"values":[{"g":0.0025},{"g":0.0075},{"g":0.0125},{"g":0.0175},{"g":0.0225}]},"mark":{"type":"arc","filled":false,"stroke":"#22dd22","strokeWidth":1.3,"theta":0,"theta2":6.2832},"encoding":{"x":{"datum":0,"type":"quantitative","scale":{"domain":[-0.033269,0.016731]},"axis":null},"y":{"datum":0,"type":"quantitative","scale":{"domain":[-0.025,0.025]},"axis":null},"radius":{"field":"g","type":"quantitative","stack":false,"scale":{"type":"linear","domain":[0,0.025],"range":[0,130]}}}},
 {"data":{"name":"tng"},"transform":[{"filter":"datum.s == '-'"}],"mark":{"type":"arc","stroke":"black","strokeWidth":0.8,"fill":{"gradient":"linear","x1":0,"y1":0,"x2":1,"y2":1,"stops":[{"offset":0,"color":"#c4c4c4"},{"offset":0.04,"color":"#c4c4c4"},{"offset":0.04,"color":"#333333"},{"offset":0.05,"color":"#333333"},{"offset":0.05,"color":"#c4c4c4"},{"offset":0.09,"color":"#c4c4c4"},{"offset":0.09,"color":"#333333"},{"offset":0.1,"color":"#333333"},{"offset":0.1,"color":"#c4c4c4"},{"offset":0.14,"color":"#c4c4c4"},{"offset":0.14,"color":"#333333"},{"offset":0.15,"color":"#333333"},{"offset":0.15,"color":"#c4c4c4"},{"offset":0.19,"color":"#c4c4c4"},{"offset":0.19,"color":"#333333"},{"offset":0.2,"color":"#333333"},{"offset":0.2,"color":"#c4c4c4"},{"offset":0.24,"color":"#c4c4c4"},{"offset":0.24,"color":"#333333"},{"offset":0.25,"color":"#333333"},{"offset":0.25,"color":"#c4c4c4"},{"offset":0.29,"color":"#c4c4c4"},{"offset":0.29,"color":"#333333"},{"offset":0.3,"color":"#333333"},{"offset":0.3,"color":"#c4c4c4"},{"offset":0.34,"color":"#c4c4c4"},{"offset":0.34,"color":"#333333"},{"offset":0.35,"color":"#333333"},{"offset":0.35,"color":"#c4c4c4"},{"offset":0.39,"color":"#c4c4c4"},{"offset":0.39,"color":"#333333"},{"offset":0.4,"color":"#333333"},{"offset":0.4,"color":"#c4c4c4"},{"offset":0.44,"color":"#c4c4c4"},{"offset":0.44,"color":"#333333"},{"offset":0.45,"color":"#333333"},{"offset":0.45,"color":"#c4c4c4"},{"offset":0.49,"color":"#c4c4c4"},{"offset":0.49,"color":"#333333"},{"offset":0.5,"color":"#333333"},{"offset":0.5,"color":"#c4c4c4"},{"offset":0.54,"color":"#c4c4c4"},{"offset":0.54,"color":"#333333"},{"offset":0.55,"color":"#333333"},{"offset":0.55,"color":"#c4c4c4"},{"offset":0.59,"color":"#c4c4c4"},{"offset":0.59,"color":"#333333"},{"offset":0.6,"color":"#333333"},{"offset":0.6,"color":"#c4c4c4"},{"offset":0.64,"color":"#c4c4c4"},{"offset":0.64,"color":"#333333"},{"offset":0.65,"color":"#333333"},{"offset":0.65,"color":"#c4c4c4"},{"offset":0.69,"color":"#c4c4c4"},{"offset":0.69,"color":"#333333"},{"offset":0.7,"color":"#333333"},{"offset":0.7,"color":"#c4c4c4"},{"offset":0.74,"color":"#c4c4c4"},{"offset":0.74,"color":"#333333"},{"offset":0.75,"color":"#333333"},{"offset":0.75,"color":"#c4c4c4"},{"offset":0.79,"color":"#c4c4c4"},{"offset":0.79,"color":"#333333"},{"offset":0.8,"color":"#333333"},{"offset":0.8,"color":"#c4c4c4"},{"offset":0.84,"color":"#c4c4c4"},{"offset":0.84,"color":"#333333"},{"offset":0.85,"color":"#333333"},{"offset":0.85,"color":"#c4c4c4"},{"offset":0.89,"color":"#c4c4c4"},{"offset":0.89,"color":"#333333"},{"offset":0.9,"color":"#333333"},{"offset":0.9,"color":"#c4c4c4"},{"offset":0.94,"color":"#c4c4c4"},{"offset":0.94,"color":"#333333"},{"offset":0.95,"color":"#333333"},{"offset":0.95,"color":"#c4c4c4"},{"offset":0.99,"color":"#c4c4c4"},{"offset":0.99,"color":"#333333"},{"offset":1,"color":"#333333"}]}},"encoding":{"x":{"datum":0,"type":"quantitative","scale":{"domain":[-0.033269,0.016731]},"axis":null},"y":{"datum":0,"type":"quantitative","scale":{"domain":[-0.025,0.025]},"axis":null},"theta":{"field":"a0","type":"quantitative","scale":{"domain":[0,360],"range":[1.5708,-4.7124]}},"theta2":{"field":"a1"},"radius":{"field":"r","type":"quantitative","stack":false,"scale":{"type":"linear","domain":[0,0.025],"range":[0,130]}}}},
 {"data":{"name":"tng"},"transform":[{"filter":"datum.s == '+'"}],"mark":{"type":"arc","stroke":"black","strokeWidth":0.8,"fill":{"gradient":"linear","x1":0,"y1":0,"x2":1,"y2":1,"stops":[{"offset":0,"color":"#ffffff"},{"offset":0.04,"color":"#ffffff"},{"offset":0.04,"color":"#333333"},{"offset":0.05,"color":"#333333"},{"offset":0.05,"color":"#ffffff"},{"offset":0.09,"color":"#ffffff"},{"offset":0.09,"color":"#333333"},{"offset":0.1,"color":"#333333"},{"offset":0.1,"color":"#ffffff"},{"offset":0.14,"color":"#ffffff"},{"offset":0.14,"color":"#333333"},{"offset":0.15,"color":"#333333"},{"offset":0.15,"color":"#ffffff"},{"offset":0.19,"color":"#ffffff"},{"offset":0.19,"color":"#333333"},{"offset":0.2,"color":"#333333"},{"offset":0.2,"color":"#ffffff"},{"offset":0.24,"color":"#ffffff"},{"offset":0.24,"color":"#333333"},{"offset":0.25,"color":"#333333"},{"offset":0.25,"color":"#ffffff"},{"offset":0.29,"color":"#ffffff"},{"offset":0.29,"color":"#333333"},{"offset":0.3,"color":"#333333"},{"offset":0.3,"color":"#ffffff"},{"offset":0.34,"color":"#ffffff"},{"offset":0.34,"color":"#333333"},{"offset":0.35,"color":"#333333"},{"offset":0.35,"color":"#ffffff"},{"offset":0.39,"color":"#ffffff"},{"offset":0.39,"color":"#333333"},{"offset":0.4,"color":"#333333"},{"offset":0.4,"color":"#ffffff"},{"offset":0.44,"color":"#ffffff"},{"offset":0.44,"color":"#333333"},{"offset":0.45,"color":"#333333"},{"offset":0.45,"color":"#ffffff"},{"offset":0.49,"color":"#ffffff"},{"offset":0.49,"color":"#333333"},{"offset":0.5,"color":"#333333"},{"offset":0.5,"color":"#ffffff"},{"offset":0.54,"color":"#ffffff"},{"offset":0.54,"color":"#333333"},{"offset":0.55,"color":"#333333"},{"offset":0.55,"color":"#ffffff"},{"offset":0.59,"color":"#ffffff"},{"offset":0.59,"color":"#333333"},{"offset":0.6,"color":"#333333"},{"offset":0.6,"color":"#ffffff"},{"offset":0.64,"color":"#ffffff"},{"offset":0.64,"color":"#333333"},{"offset":0.65,"color":"#333333"},{"offset":0.65,"color":"#ffffff"},{"offset":0.69,"color":"#ffffff"},{"offset":0.69,"color":"#333333"},{"offset":0.7,"color":"#333333"},{"offset":0.7,"color":"#ffffff"},{"offset":0.74,"color":"#ffffff"},{"offset":0.74,"color":"#333333"},{"offset":0.75,"color":"#333333"},{"offset":0.75,"color":"#ffffff"},{"offset":0.79,"color":"#ffffff"},{"offset":0.79,"color":"#333333"},{"offset":0.8,"color":"#333333"},{"offset":0.8,"color":"#ffffff"},{"offset":0.84,"color":"#ffffff"},{"offset":0.84,"color":"#333333"},{"offset":0.85,"color":"#333333"},{"offset":0.85,"color":"#ffffff"},{"offset":0.89,"color":"#ffffff"},{"offset":0.89,"color":"#333333"},{"offset":0.9,"color":"#333333"},{"offset":0.9,"color":"#ffffff"},{"offset":0.94,"color":"#ffffff"},{"offset":0.94,"color":"#333333"},{"offset":0.95,"color":"#333333"},{"offset":0.95,"color":"#ffffff"},{"offset":0.99,"color":"#ffffff"},{"offset":0.99,"color":"#333333"},{"offset":1,"color":"#333333"}]}},"encoding":{"x":{"datum":0,"type":"quantitative","scale":{"domain":[-0.033269,0.016731]},"axis":null},"y":{"datum":0,"type":"quantitative","scale":{"domain":[-0.025,0.025]},"axis":null},"theta":{"field":"a0","type":"quantitative","scale":{"domain":[0,360],"range":[1.5708,-4.7124]}},"theta2":{"field":"a1"},"radius":{"field":"r","type":"quantitative","stack":false,"scale":{"type":"linear","domain":[0,0.025],"range":[0,130]}}}},
 {"data":{"values":[{"s":"+"},{"s":"-"}]},"mark":{"type":"rect"},"encoding":{"x":{"datum":0,"type":"quantitative","scale":{"domain":[-0.033269,0.016731]},"axis":null},"x2":{"datum":0},"y":{"datum":0,"type":"quantitative","scale":{"domain":[-0.025,0.025]},"axis":null},"y2":{"datum":0},"fill":{"field":"s","type":"nominal","scale":{"domain":["+","-"],"range":["#f2f2f2","#b4b4b4"]},"legend":{"orient":"none","legendX":28.5,"legendY":-43,"title":null,"direction":"horizontal","symbolType":"M-1.85,-0.7H1.85V0.7H-1.85Z","symbolSize":400,"symbolStrokeColor":"black","symbolStrokeWidth":1,"labelOffset":15,"columnPadding":-4,"labelExpr":"datum.label == '-' ? 'DEM data' : ''","padding":0,"labelFont":"Liberation Sans","labelFontSize":16.5,"labelColor":"black"}}}},
 {"data":{"values":[{}]},"mark":{"type":"arc","filled":false,"stroke":"#1a1a55","strokeWidth":1.5,"theta":0,"theta2":6.2832},"encoding":{"x":{"datum":0,"type":"quantitative","scale":{"domain":[-0.033269,0.016731]},"axis":null},"y":{"datum":0,"type":"quantitative","scale":{"domain":[-0.025,0.025]},"axis":null},"radius":{"datum":0.025,"type":"quantitative","scale":{"type":"linear","domain":[0,0.025],"range":[0,130]}}}},
 {"data":{"name":"eq14"},"transform":[{"filter":"datum.s == '+'"}],"mark":{"type":"text","text":"■","font":"DejaVu Sans","fontSize":11,"color":"black","strokeWidth":0.5},"encoding":{"x":{"datum":0,"type":"quantitative","scale":{"domain":[-0.033269,0.016731]},"axis":null},"y":{"datum":0,"type":"quantitative","scale":{"domain":[-0.025,0.025]},"axis":null},"theta":{"field":"a","type":"quantitative","stack":false,"scale":{"domain":[0,360],"range":[1.5708,-4.7124]}},"radius":{"field":"r","type":"quantitative","stack":false,"scale":{"type":"linear","domain":[0,0.025],"range":[0,130]}},"stroke":{"datum":"Eq.(14)","type":"nominal","scale":{"range":["black"]},"legend":{"orient":"none","legendX":212,"legendY":-43,"title":null,"direction":"horizontal","symbolType":"M-2.05,0H2.05M-0.3,-0.3H0.3V0.3H-0.3Z","symbolSize":400,"symbolFillColor":"black","symbolStrokeColor":"black","symbolStrokeWidth":1,"labelOffset":13.5,"padding":0,"labelFont":"Liberation Sans","labelFontSize":16.5,"labelColor":"black"}}}},
 {"data":{"name":"eq14"},"transform":[{"filter":"datum.s == '-'"}],"mark":{"type":"text","text":"■","font":"DejaVu Sans","fontSize":9,"color":"white","strokeWidth":0.8},"encoding":{"x":{"datum":0,"type":"quantitative","scale":{"domain":[-0.033269,0.016731]},"axis":null},"y":{"datum":0,"type":"quantitative","scale":{"domain":[-0.025,0.025]},"axis":null},"theta":{"field":"a","type":"quantitative","stack":false,"scale":{"domain":[0,360],"range":[1.5708,-4.7124]}},"radius":{"field":"r","type":"quantitative","stack":false,"scale":{"type":"linear","domain":[0,0.025],"range":[0,130]}},"stroke":{"datum":"Eq.(14)","type":"nominal","scale":{"range":["black"]}}}},
 {"data":{"values":[{}]},"mark":{"type":"rect","fill":"white"},"encoding":{"x":{"datum":-0.001164,"type":"quantitative","scale":{"domain":[-0.033269,0.016731]},"axis":null},"x2":{"datum":0.001528},"y":{"datum":0.007898,"type":"quantitative","scale":{"domain":[-0.025,0.025]},"axis":null},"y2":{"datum":0.012898}}},
 {"data":{"values":[{}]},"mark":{"type":"rect","fill":"white"},"encoding":{"x":{"datum":-0.000405,"type":"quantitative","scale":{"domain":[-0.033269,0.016731]},"axis":null},"x2":{"datum":0.002287},"y":{"datum":-0.013259,"type":"quantitative","scale":{"domain":[-0.025,0.025]},"axis":null},"y2":{"datum":-0.008259}}},
 {"data":{"values":[{}]},"mark":{"type":"rect","fill":"white"},"encoding":{"x":{"datum":-0.013068,"type":"quantitative","scale":{"domain":[-0.033269,0.016731]},"axis":null},"x2":{"datum":-0.009606},"y":{"datum":-0.003115,"type":"quantitative","scale":{"domain":[-0.025,0.025]},"axis":null},"y2":{"datum":0.000731}}},
 {"data":{"values":[{}]},"mark":{"type":"rect","fill":"white"},"encoding":{"x":{"datum":0.008355,"type":"quantitative","scale":{"domain":[-0.033269,0.016731]},"axis":null},"x2":{"datum":0.011817},"y":{"datum":-0.001394,"type":"quantitative","scale":{"domain":[-0.025,0.025]},"axis":null},"y2":{"datum":0.002452}}},
 {"data":{"values":[{"a":89,"r":0.0104,"t":"-"},{"a":275,"r":0.0108,"t":"-"},{"a":186,"r":0.0114,"t":"+"},{"a":3,"r":0.0101,"t":"+"}]},"mark":{"type":"text","font":"Liberation Sans","fontWeight":"bold","fontSize":26,"color":"black"},"encoding":{"x":{"datum":0,"type":"quantitative","scale":{"domain":[-0.033269,0.016731]},"axis":null},"y":{"datum":0,"type":"quantitative","scale":{"domain":[-0.025,0.025]},"axis":null},"theta":{"field":"a","type":"quantitative","stack":false,"scale":{"domain":[0,360],"range":[1.5708,-4.7124]}},"radius":{"field":"r","type":"quantitative","stack":false,"scale":{"type":"linear","domain":[0,0.025],"range":[0,130]}},"text":{"field":"t"}}},
 {"data":{"values":[{}]},"mark":{"type":"rule","color":"#8000ff","strokeWidth":1.5},"encoding":{"x":{"datum":0,"type":"quantitative","scale":{"domain":[-0.033269,0.016731]},"axis":null},"y":{"datum":0,"type":"quantitative","scale":{"domain":[-0.025,0.025]},"axis":null},"x2":{"datum":0.02288},"y2":{"datum":0.02481}}},
 {"data":{"values":[{}]},"mark":{"type":"rule","color":"#8000ff","strokeWidth":1.5},"encoding":{"x":{"datum":0.01212,"type":"quantitative","scale":{"domain":[-0.033269,0.016731]},"axis":null},"x2":{"datum":0.02365},"y":{"datum":0.01308,"type":"quantitative","scale":{"domain":[-0.025,0.025]},"axis":null}}},
 {"data":{"values":[{}]},"mark":{"type":"point","shape":"triangle-up","filled":true,"color":"#8000ff","size":90,"angle":42.7,"opacity":1},"encoding":{"x":{"datum":0.02288,"type":"quantitative","scale":{"domain":[-0.033269,0.016731]},"axis":null},"y":{"datum":0.02481,"type":"quantitative","scale":{"domain":[-0.025,0.025]},"axis":null}}},
 {"data":{"values":[{}]},"mark":{"type":"text","text":"φₜᶠ /2","font":"Liberation Serif","fontStyle":"italic","fontSize":18,"color":"#222222"},"encoding":{"x":{"datum":0.02077,"type":"quantitative","scale":{"domain":[-0.033269,0.016731]},"axis":null},"y":{"datum":0.01596,"type":"quantitative","scale":{"domain":[-0.025,0.025]},"axis":null}}},
 {"data":{"values":[{}]},"mark":{"type":"rule","color":"black","strokeWidth":1.2},"encoding":{"x":{"datum":0.00846,"type":"quantitative","scale":{"domain":[-0.033269,0.016731]},"axis":null},"y":{"datum":-0.00077,"type":"quantitative","scale":{"domain":[-0.025,0.025]},"axis":null},"y2":{"datum":-0.02288}}},
 {"data":{"values":[{}]},"mark":{"type":"point","shape":"triangle-up","filled":true,"color":"black","size":40,"opacity":1},"encoding":{"x":{"datum":0.00846,"type":"quantitative","scale":{"domain":[-0.033269,0.016731]},"axis":null},"y":{"datum":-0.0012,"type":"quantitative","scale":{"domain":[-0.025,0.025]},"axis":null}}},
 {"data":{"values":[{}]},"mark":{"type":"point","shape":"triangle-down","filled":true,"color":"black","size":40,"opacity":1},"encoding":{"x":{"datum":0.00846,"type":"quantitative","scale":{"domain":[-0.033269,0.016731]},"axis":null},"y":{"datum":-0.0222,"type":"quantitative","scale":{"domain":[-0.025,0.025]},"axis":null}}},
 {"data":{"values":[{}]},"mark":{"type":"rule","color":"black","strokeWidth":2},"encoding":{"x":{"datum":-0.00308,"type":"quantitative","scale":{"domain":[-0.033269,0.016731]},"axis":null},"x2":{"datum":0.01038},"y":{"datum":-0.0225,"type":"quantitative","scale":{"domain":[-0.025,0.025]},"axis":null}}},
 {"data":{"values":[{}]},"mark":{"type":"text","text":"f₀cₜᶠ","font":"Liberation Serif","fontStyle":"italic","fontSize":22,"color":"#222222"},"encoding":{"x":{"datum":0.01327,"type":"quantitative","scale":{"domain":[-0.033269,0.016731]},"axis":null},"y":{"datum":-0.01327,"type":"quantitative","scale":{"domain":[-0.025,0.025]},"axis":null}}},
 {"data":{"values":[{}]},"mark":{"type":"rect","fill":"white","stroke":"black","strokeWidth":1},"encoding":{"x":{"datum":-0.02808,"type":"quantitative","scale":{"domain":[-0.033269,0.016731]},"axis":null},"x2":{"datum":-0.00846},"y":{"datum":0.02673,"type":"quantitative","scale":{"domain":[-0.025,0.025]},"axis":null},"y2":{"datum":0.00923}}},
 {"data":{"values":[{"t":"f₀ = 0.078N","y":0.02231},{"t":"cₜᶠ = 0.26","y":0.01769},{"t":"φₙᶠ = 95.53°","y":0.01288}]},"mark":{"type":"text","align":"left","font":"Liberation Serif","fontSize":17,"color":"black"},"encoding":{"x":{"datum":-0.02615,"type":"quantitative","scale":{"domain":[-0.033269,0.016731]},"axis":null},"y":{"field":"y","type":"quantitative","scale":{"domain":[-0.025,0.025]},"axis":null},"text":{"field":"t"}}}
]}
]
}
